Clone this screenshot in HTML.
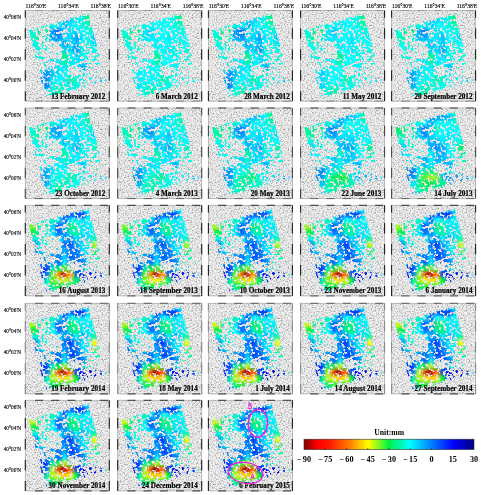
<!DOCTYPE html><html><head><meta charset="utf-8"><style>
html,body{margin:0;padding:0;background:#fff;}
svg{display:block;will-change:transform;}
text{font-family:"Liberation Serif",serif;}
</style></head><body>
<svg width="481" height="495" viewBox="0 0 481 495">
<defs>
<filter id="hs" x="0" y="0" width="1" height="1" color-interpolation-filters="sRGB"><feTurbulence type="fractalNoise" baseFrequency="0.75" numOctaves="2" seed="7" result="n"/><feColorMatrix in="n" type="matrix" values="1 0 0 0 0  1 0 0 0 0  1 0 0 0 0  0 0 0 0 1" result="g"/><feComponentTransfer in="g"><feFuncR type="table" tableValues="0.42 0.52 0.61 0.71 0.82 0.90 0.94 0.97 0.99 1 1"/><feFuncG type="table" tableValues="0.42 0.52 0.61 0.71 0.82 0.90 0.94 0.97 0.99 1 1"/><feFuncB type="table" tableValues="0.42 0.52 0.61 0.71 0.82 0.90 0.94 0.97 0.99 1 1"/></feComponentTransfer></filter>
<filter id="thr" filterUnits="userSpaceOnUse" x="-25" y="-25" width="134" height="141" color-interpolation-filters="sRGB"><feGaussianBlur in="SourceGraphic" stdDeviation="1.2" result="d"/><feTurbulence type="fractalNoise" baseFrequency="0.4" numOctaves="2" seed="23" result="n0"/><feColorMatrix in="n0" type="matrix" values="1 0 0 0 0  1 0 0 0 0  1 0 0 0 0  0 0 0 0 1" result="n"/><feComposite in="d" in2="n" operator="arithmetic" k1="0" k2="1" k3="1" k4="-0.5" result="s"/><feColorMatrix in="s" type="matrix" values="14 0 0 0 -7  14 0 0 0 -7  14 0 0 0 -7  0 0 0 0 1"/></filter>
<filter id="bl" x="-0.2" y="-0.2" width="1.4" height="1.4" color-interpolation-filters="sRGB"><feGaussianBlur stdDeviation="1.6"/></filter>
<filter id="bl2" x="-0.5" y="-0.5" width="2" height="2" color-interpolation-filters="sRGB"><feGaussianBlur stdDeviation="2.2"/></filter>
<clipPath id="fp"><polygon points="3.5,19.5 63,3.3 81.6,71.5 20,88.6"/></clipPath>
<clipPath id="pc"><rect x="0" y="0" width="84" height="90.6"/></clipPath>
<mask id="dm" maskUnits="userSpaceOnUse" x="0" y="0" width="84" height="91">
<g clip-path="url(#fp)"><g transform="rotate(-15 42 45)"><g filter="url(#thr)"><rect x="-25" y="-25" width="134" height="141" fill="#000"/><g transform="rotate(15 42 45)">
<path fill="#3d3d3d" d="M0 0h6.6v6.6h-6.6zM6 0h6.6v6.6h-6.6zM12 0h6.6v6.6h-6.6zM18 0h6.6v6.6h-6.6zM24 0h6.6v6.6h-6.6zM30 0h6.6v6.6h-6.6zM36 0h6.6v6.6h-6.6zM42 0h6.6v6.6h-6.6zM66 0h6.6v6.6h-6.6zM72 0h6.6v6.6h-6.6zM78 0h6.6v6.6h-6.6zM0 6h6.6v6.6h-6.6zM6 6h6.6v6.6h-6.6zM12 6h6.6v6.6h-6.6zM18 6h6.6v6.6h-6.6zM24 6h6.6v6.6h-6.6zM66 6h6.6v6.6h-6.6zM72 6h6.6v6.6h-6.6zM78 6h6.6v6.6h-6.6zM0 12h6.6v6.6h-6.6zM6 12h6.6v6.6h-6.6zM72 12h6.6v6.6h-6.6zM78 12h6.6v6.6h-6.6zM72 18h6.6v6.6h-6.6zM78 18h6.6v6.6h-6.6zM72 24h6.6v6.6h-6.6zM78 24h6.6v6.6h-6.6zM72 30h6.6v6.6h-6.6zM78 30h6.6v6.6h-6.6zM78 36h6.6v6.6h-6.6zM0 42h6.6v6.6h-6.6zM78 42h6.6v6.6h-6.6zM0 48h6.6v6.6h-6.6zM78 48h6.6v6.6h-6.6zM0 54h6.6v6.6h-6.6zM6 54h6.6v6.6h-6.6zM0 60h6.6v6.6h-6.6zM6 60h6.6v6.6h-6.6zM0 66h6.6v6.6h-6.6zM6 66h6.6v6.6h-6.6zM0 72h6.6v6.6h-6.6zM6 72h6.6v6.6h-6.6zM72 72h6.6v6.6h-6.6zM78 72h6.6v6.6h-6.6zM0 78h6.6v6.6h-6.6zM6 78h6.6v6.6h-6.6zM12 78h6.6v6.6h-6.6zM54 78h6.6v6.6h-6.6zM60 78h6.6v6.6h-6.6zM66 78h6.6v6.6h-6.6zM72 78h6.6v6.6h-6.6zM78 78h6.6v6.6h-6.6zM0 84h6.6v6.6h-6.6zM6 84h6.6v6.6h-6.6zM12 84h6.6v6.6h-6.6zM48 84h6.6v6.6h-6.6zM54 84h6.6v6.6h-6.6zM60 84h6.6v6.6h-6.6zM66 84h6.6v6.6h-6.6zM72 84h6.6v6.6h-6.6zM78 84h6.6v6.6h-6.6z"/>
<path fill="#5c5c5c" d="M30 6h6.6v6.6h-6.6zM66 12h6.6v6.6h-6.6zM12 24h6.6v6.6h-6.6zM24 30h6.6v6.6h-6.6zM24 36h6.6v6.6h-6.6zM30 36h6.6v6.6h-6.6zM72 36h6.6v6.6h-6.6zM12 42h6.6v6.6h-6.6zM18 42h6.6v6.6h-6.6zM24 42h6.6v6.6h-6.6zM30 42h6.6v6.6h-6.6zM6 48h6.6v6.6h-6.6zM12 48h6.6v6.6h-6.6zM18 48h6.6v6.6h-6.6zM24 48h6.6v6.6h-6.6zM42 54h6.6v6.6h-6.6zM48 54h6.6v6.6h-6.6zM60 54h6.6v6.6h-6.6zM66 54h6.6v6.6h-6.6zM72 54h6.6v6.6h-6.6zM78 54h6.6v6.6h-6.6zM48 60h6.6v6.6h-6.6zM54 60h6.6v6.6h-6.6zM60 60h6.6v6.6h-6.6zM66 60h6.6v6.6h-6.6zM72 60h6.6v6.6h-6.6zM78 60h6.6v6.6h-6.6zM12 72h6.6v6.6h-6.6zM60 72h6.6v6.6h-6.6zM66 72h6.6v6.6h-6.6zM48 78h6.6v6.6h-6.6zM24 84h6.6v6.6h-6.6zM30 84h6.6v6.6h-6.6zM36 84h6.6v6.6h-6.6zM42 84h6.6v6.6h-6.6z"/>
<path fill="#757575" d="M48 0h6.6v6.6h-6.6zM12 12h6.6v6.6h-6.6zM18 12h6.6v6.6h-6.6zM12 18h6.6v6.6h-6.6zM18 18h6.6v6.6h-6.6zM36 18h6.6v6.6h-6.6zM18 24h6.6v6.6h-6.6zM0 30h6.6v6.6h-6.6zM12 30h6.6v6.6h-6.6zM18 30h6.6v6.6h-6.6zM30 30h6.6v6.6h-6.6zM54 30h6.6v6.6h-6.6zM0 36h6.6v6.6h-6.6zM6 36h6.6v6.6h-6.6zM18 36h6.6v6.6h-6.6zM60 36h6.6v6.6h-6.6zM6 42h6.6v6.6h-6.6zM60 42h6.6v6.6h-6.6zM66 42h6.6v6.6h-6.6zM72 42h6.6v6.6h-6.6zM30 48h6.6v6.6h-6.6zM54 48h6.6v6.6h-6.6zM60 48h6.6v6.6h-6.6zM66 48h6.6v6.6h-6.6zM72 48h6.6v6.6h-6.6zM12 54h6.6v6.6h-6.6zM18 54h6.6v6.6h-6.6zM24 54h6.6v6.6h-6.6zM54 54h6.6v6.6h-6.6zM12 60h6.6v6.6h-6.6zM42 60h6.6v6.6h-6.6zM12 66h6.6v6.6h-6.6zM54 66h6.6v6.6h-6.6zM60 66h6.6v6.6h-6.6zM66 66h6.6v6.6h-6.6zM72 66h6.6v6.6h-6.6zM78 66h6.6v6.6h-6.6zM54 72h6.6v6.6h-6.6zM18 78h6.6v6.6h-6.6zM36 78h6.6v6.6h-6.6zM42 78h6.6v6.6h-6.6zM18 84h6.6v6.6h-6.6z"/>
<path fill="#999999" d="M54 0h6.6v6.6h-6.6zM60 0h6.6v6.6h-6.6zM36 6h6.6v6.6h-6.6zM42 6h6.6v6.6h-6.6zM48 6h6.6v6.6h-6.6zM54 6h6.6v6.6h-6.6zM60 6h6.6v6.6h-6.6zM24 12h6.6v6.6h-6.6zM30 12h6.6v6.6h-6.6zM36 12h6.6v6.6h-6.6zM42 12h6.6v6.6h-6.6zM48 12h6.6v6.6h-6.6zM54 12h6.6v6.6h-6.6zM60 12h6.6v6.6h-6.6zM0 18h6.6v6.6h-6.6zM6 18h6.6v6.6h-6.6zM24 18h6.6v6.6h-6.6zM30 18h6.6v6.6h-6.6zM42 18h6.6v6.6h-6.6zM48 18h6.6v6.6h-6.6zM54 18h6.6v6.6h-6.6zM60 18h6.6v6.6h-6.6zM66 18h6.6v6.6h-6.6zM0 24h6.6v6.6h-6.6zM6 24h6.6v6.6h-6.6zM24 24h6.6v6.6h-6.6zM30 24h6.6v6.6h-6.6zM36 24h6.6v6.6h-6.6zM42 24h6.6v6.6h-6.6zM48 24h6.6v6.6h-6.6zM54 24h6.6v6.6h-6.6zM60 24h6.6v6.6h-6.6zM66 24h6.6v6.6h-6.6zM6 30h6.6v6.6h-6.6zM36 30h6.6v6.6h-6.6zM42 30h6.6v6.6h-6.6zM48 30h6.6v6.6h-6.6zM60 30h6.6v6.6h-6.6zM66 30h6.6v6.6h-6.6zM12 36h6.6v6.6h-6.6zM36 36h6.6v6.6h-6.6zM42 36h6.6v6.6h-6.6zM48 36h6.6v6.6h-6.6zM54 36h6.6v6.6h-6.6zM66 36h6.6v6.6h-6.6zM36 42h6.6v6.6h-6.6zM42 42h6.6v6.6h-6.6zM48 42h6.6v6.6h-6.6zM54 42h6.6v6.6h-6.6zM36 48h6.6v6.6h-6.6zM42 48h6.6v6.6h-6.6zM48 48h6.6v6.6h-6.6zM30 54h6.6v6.6h-6.6zM36 54h6.6v6.6h-6.6zM18 60h6.6v6.6h-6.6zM24 60h6.6v6.6h-6.6zM30 60h6.6v6.6h-6.6zM36 60h6.6v6.6h-6.6zM18 66h6.6v6.6h-6.6zM24 66h6.6v6.6h-6.6zM30 66h6.6v6.6h-6.6zM36 66h6.6v6.6h-6.6zM42 66h6.6v6.6h-6.6zM48 66h6.6v6.6h-6.6zM18 72h6.6v6.6h-6.6zM24 72h6.6v6.6h-6.6zM30 72h6.6v6.6h-6.6zM36 72h6.6v6.6h-6.6zM42 72h6.6v6.6h-6.6zM48 72h6.6v6.6h-6.6zM24 78h6.6v6.6h-6.6zM30 78h6.6v6.6h-6.6z"/>
<path d="M9 46L35 51L61 55.5" stroke="#c8c8c8" stroke-width="1.8" fill="none"/>
<path d="M59 56L56 73" stroke="#b4b4b4" stroke-width="1.5" fill="none"/>
</g></g></g></g></mask>
<linearGradient id="jet" x1="0" y1="0" x2="1" y2="0"><stop offset="0" stop-color="#800000"/><stop offset="0.08" stop-color="#ff0000"/><stop offset="0.15" stop-color="#ff1900"/><stop offset="0.27" stop-color="#ff8000"/><stop offset="0.38" stop-color="#ffff00"/><stop offset="0.5" stop-color="#00f046"/><stop offset="0.62" stop-color="#00ffff"/><stop offset="0.75" stop-color="#0080ff"/><stop offset="0.88" stop-color="#0000ff"/><stop offset="1" stop-color="#000080"/></linearGradient>
</defs>
<rect width="481" height="495" fill="#fff"/>
<text x="35.9" y="7.75" font-size="5.2" text-anchor="middle" textLength="20.6" stroke="#000" stroke-width="0.12" lengthAdjust="spacingAndGlyphs">116°30'E</text>
<text x="68.3" y="7.75" font-size="5.2" text-anchor="middle" textLength="20.6" stroke="#000" stroke-width="0.12" lengthAdjust="spacingAndGlyphs">116°34'E</text>
<text x="100.7" y="7.75" font-size="5.2" text-anchor="middle" textLength="20.6" stroke="#000" stroke-width="0.12" lengthAdjust="spacingAndGlyphs">116°38'E</text>
<text x="128.3" y="7.75" font-size="5.2" text-anchor="middle" textLength="20.6" stroke="#000" stroke-width="0.12" lengthAdjust="spacingAndGlyphs">116°30'E</text>
<text x="160.7" y="7.75" font-size="5.2" text-anchor="middle" textLength="20.6" stroke="#000" stroke-width="0.12" lengthAdjust="spacingAndGlyphs">116°34'E</text>
<text x="193.1" y="7.75" font-size="5.2" text-anchor="middle" textLength="20.6" stroke="#000" stroke-width="0.12" lengthAdjust="spacingAndGlyphs">116°38'E</text>
<text x="219" y="7.75" font-size="5.2" text-anchor="middle" textLength="20.6" stroke="#000" stroke-width="0.12" lengthAdjust="spacingAndGlyphs">116°30'E</text>
<text x="251.4" y="7.75" font-size="5.2" text-anchor="middle" textLength="20.6" stroke="#000" stroke-width="0.12" lengthAdjust="spacingAndGlyphs">116°34'E</text>
<text x="283.8" y="7.75" font-size="5.2" text-anchor="middle" textLength="20.6" stroke="#000" stroke-width="0.12" lengthAdjust="spacingAndGlyphs">116°38'E</text>
<text x="311.2" y="7.75" font-size="5.2" text-anchor="middle" textLength="20.6" stroke="#000" stroke-width="0.12" lengthAdjust="spacingAndGlyphs">116°30'E</text>
<text x="343.6" y="7.75" font-size="5.2" text-anchor="middle" textLength="20.6" stroke="#000" stroke-width="0.12" lengthAdjust="spacingAndGlyphs">116°34'E</text>
<text x="376" y="7.75" font-size="5.2" text-anchor="middle" textLength="20.6" stroke="#000" stroke-width="0.12" lengthAdjust="spacingAndGlyphs">116°38'E</text>
<text x="402.2" y="7.75" font-size="5.2" text-anchor="middle" textLength="20.6" stroke="#000" stroke-width="0.12" lengthAdjust="spacingAndGlyphs">116°30'E</text>
<text x="434.6" y="7.75" font-size="5.2" text-anchor="middle" textLength="20.6" stroke="#000" stroke-width="0.12" lengthAdjust="spacingAndGlyphs">116°34'E</text>
<text x="467" y="7.75" font-size="5.2" text-anchor="middle" textLength="20.6" stroke="#000" stroke-width="0.12" lengthAdjust="spacingAndGlyphs">116°38'E</text>
<text x="3.7" y="19.3" font-size="5.2" textLength="17.5" stroke="#000" stroke-width="0.12" lengthAdjust="spacingAndGlyphs">40°06'N</text>
<text x="3.7" y="40.3" font-size="5.2" textLength="17.5" stroke="#000" stroke-width="0.12" lengthAdjust="spacingAndGlyphs">40°04'N</text>
<text x="3.7" y="61.3" font-size="5.2" textLength="17.5" stroke="#000" stroke-width="0.12" lengthAdjust="spacingAndGlyphs">40°02'N</text>
<text x="3.7" y="82.3" font-size="5.2" textLength="17.5" stroke="#000" stroke-width="0.12" lengthAdjust="spacingAndGlyphs">40°00'N</text>
<text x="3.7" y="116.8" font-size="5.2" textLength="17.5" stroke="#000" stroke-width="0.12" lengthAdjust="spacingAndGlyphs">40°06'N</text>
<text x="3.7" y="137.8" font-size="5.2" textLength="17.5" stroke="#000" stroke-width="0.12" lengthAdjust="spacingAndGlyphs">40°04'N</text>
<text x="3.7" y="158.8" font-size="5.2" textLength="17.5" stroke="#000" stroke-width="0.12" lengthAdjust="spacingAndGlyphs">40°02'N</text>
<text x="3.7" y="179.8" font-size="5.2" textLength="17.5" stroke="#000" stroke-width="0.12" lengthAdjust="spacingAndGlyphs">40°00'N</text>
<text x="3.7" y="214.1" font-size="5.2" textLength="17.5" stroke="#000" stroke-width="0.12" lengthAdjust="spacingAndGlyphs">40°06'N</text>
<text x="3.7" y="235.1" font-size="5.2" textLength="17.5" stroke="#000" stroke-width="0.12" lengthAdjust="spacingAndGlyphs">40°04'N</text>
<text x="3.7" y="256.1" font-size="5.2" textLength="17.5" stroke="#000" stroke-width="0.12" lengthAdjust="spacingAndGlyphs">40°02'N</text>
<text x="3.7" y="277.1" font-size="5.2" textLength="17.5" stroke="#000" stroke-width="0.12" lengthAdjust="spacingAndGlyphs">40°00'N</text>
<text x="3.7" y="312.1" font-size="5.2" textLength="17.5" stroke="#000" stroke-width="0.12" lengthAdjust="spacingAndGlyphs">40°06'N</text>
<text x="3.7" y="333.1" font-size="5.2" textLength="17.5" stroke="#000" stroke-width="0.12" lengthAdjust="spacingAndGlyphs">40°04'N</text>
<text x="3.7" y="354.1" font-size="5.2" textLength="17.5" stroke="#000" stroke-width="0.12" lengthAdjust="spacingAndGlyphs">40°02'N</text>
<text x="3.7" y="375.1" font-size="5.2" textLength="17.5" stroke="#000" stroke-width="0.12" lengthAdjust="spacingAndGlyphs">40°00'N</text>
<text x="3.7" y="409.1" font-size="5.2" textLength="17.5" stroke="#000" stroke-width="0.12" lengthAdjust="spacingAndGlyphs">40°06'N</text>
<text x="3.7" y="430.1" font-size="5.2" textLength="17.5" stroke="#000" stroke-width="0.12" lengthAdjust="spacingAndGlyphs">40°04'N</text>
<text x="3.7" y="451.1" font-size="5.2" textLength="17.5" stroke="#000" stroke-width="0.12" lengthAdjust="spacingAndGlyphs">40°02'N</text>
<text x="3.7" y="472.1" font-size="5.2" textLength="17.5" stroke="#000" stroke-width="0.12" lengthAdjust="spacingAndGlyphs">40°00'N</text>
<g transform="translate(25.3,10.5)">
<rect x="0" y="0" width="84" height="90.6" filter="url(#hs)"/>
<g mask="url(#dm)"><g filter="url(#bl)">
<rect width="84" height="90" fill="#00fce0"/>
<path fill="#00f584" d="M60 0h6.6v6.6h-6.6zM60 6h6.6v6.6h-6.6zM12 18h6.6v6.6h-6.6zM18 18h6.6v6.6h-6.6zM12 24h6.6v6.6h-6.6zM24 36h6.6v6.6h-6.6zM36 42h6.6v6.6h-6.6z"/>
<path fill="#00eaff" d="M30 6h6.6v6.6h-6.6zM48 6h6.6v6.6h-6.6zM42 12h6.6v6.6h-6.6zM42 18h6.6v6.6h-6.6zM66 18h6.6v6.6h-6.6zM36 24h6.6v6.6h-6.6zM54 24h6.6v6.6h-6.6zM24 30h6.6v6.6h-6.6zM30 30h6.6v6.6h-6.6zM42 30h6.6v6.6h-6.6zM66 30h6.6v6.6h-6.6zM0 36h6.6v6.6h-6.6zM6 36h6.6v6.6h-6.6zM18 48h6.6v6.6h-6.6zM24 48h6.6v6.6h-6.6zM30 48h6.6v6.6h-6.6zM42 48h6.6v6.6h-6.6zM48 48h6.6v6.6h-6.6zM18 54h6.6v6.6h-6.6zM30 54h6.6v6.6h-6.6zM36 54h6.6v6.6h-6.6zM60 54h6.6v6.6h-6.6zM30 60h6.6v6.6h-6.6zM24 66h6.6v6.6h-6.6zM36 66h6.6v6.6h-6.6zM54 66h6.6v6.6h-6.6zM66 66h6.6v6.6h-6.6zM42 72h6.6v6.6h-6.6zM18 84h6.6v6.6h-6.6z"/>
<path fill="#00c0ff" d="M36 6h6.6v6.6h-6.6zM36 12h6.6v6.6h-6.6zM66 24h6.6v6.6h-6.6zM48 30h6.6v6.6h-6.6zM12 60h6.6v6.6h-6.6zM24 60h6.6v6.6h-6.6zM72 66h6.6v6.6h-6.6zM78 66h6.6v6.6h-6.6z"/>
<path fill="#00d5ff" d="M42 6h6.6v6.6h-6.6zM36 18h6.6v6.6h-6.6zM48 18h6.6v6.6h-6.6zM42 24h6.6v6.6h-6.6zM36 36h6.6v6.6h-6.6zM42 36h6.6v6.6h-6.6zM48 42h6.6v6.6h-6.6zM54 48h6.6v6.6h-6.6zM24 54h6.6v6.6h-6.6z"/>
<path fill="#00ffff" d="M30 12h6.6v6.6h-6.6zM48 12h6.6v6.6h-6.6zM54 18h6.6v6.6h-6.6zM60 24h6.6v6.6h-6.6zM54 30h6.6v6.6h-6.6zM60 36h6.6v6.6h-6.6zM24 42h6.6v6.6h-6.6zM42 42h6.6v6.6h-6.6zM60 42h6.6v6.6h-6.6zM72 48h6.6v6.6h-6.6zM48 54h6.6v6.6h-6.6zM36 60h6.6v6.6h-6.6zM60 60h6.6v6.6h-6.6zM30 66h6.6v6.6h-6.6z"/>
<path fill="#00fac1" d="M60 12h6.6v6.6h-6.6zM6 24h6.6v6.6h-6.6z"/>
<path fill="#0095ff" d="M24 18h6.6v6.6h-6.6zM30 24h6.6v6.6h-6.6zM48 36h6.6v6.6h-6.6zM18 60h6.6v6.6h-6.6zM12 66h6.6v6.6h-6.6zM18 66h6.6v6.6h-6.6z"/>
<path fill="#006bff" d="M30 18h6.6v6.6h-6.6z"/>
<path fill="#00aaff" d="M24 24h6.6v6.6h-6.6zM48 24h6.6v6.6h-6.6zM36 30h6.6v6.6h-6.6zM54 54h6.6v6.6h-6.6z"/>
<path fill="#00f8a2" d="M30 36h6.6v6.6h-6.6zM36 48h6.6v6.6h-6.6zM42 66h6.6v6.6h-6.6zM30 78h6.6v6.6h-6.6z"/>
<path fill="#0080ff" d="M18 72h6.6v6.6h-6.6z"/>
</g></g>
<rect x="0" y="0" width="84" height="90.6" fill="none" stroke="#b0b0b0" stroke-width="0.8"/>
<path d="M9.7 0H17.8 M25.9 0H34 M42.1 0H50.2 M58.3 0H66.4 M74.5 0H82.6" stroke="#9a9a9a" stroke-width="1.0" fill="none"/>
<path d="M9.7 90.6H17.8 M25.9 90.6H34 M42.1 90.6H50.2 M58.3 90.6H66.4 M74.5 90.6H82.6" stroke="#8a8a8a" stroke-width="1.0" fill="none"/>
<path d="M0 0V7.2 M84 0V7.2 M0 17.7V28.2 M84 17.7V28.2 M0 38.7V49.2 M84 38.7V49.2 M0 59.7V70.2 M84 59.7V70.2 M0 80.7V90.6 M84 80.7V90.6" stroke="#202020" stroke-width="1.1" fill="none"/>
<text x="80" y="88" font-size="7.7" font-weight="bold" text-anchor="end" stroke="#000" stroke-width="0.2" textLength="54.13" lengthAdjust="spacingAndGlyphs">13 February 2012</text>
</g>
<g transform="translate(117.7,10.5)">
<rect x="0" y="0" width="84" height="90.6" filter="url(#hs)"/>
<g mask="url(#dm)"><g filter="url(#bl)">
<rect width="84" height="90" fill="#00fce0"/>
<path fill="#00f584" d="M60 0h6.6v6.6h-6.6zM60 6h6.6v6.6h-6.6zM12 18h6.6v6.6h-6.6zM18 18h6.6v6.6h-6.6zM12 24h6.6v6.6h-6.6zM24 36h6.6v6.6h-6.6zM36 42h6.6v6.6h-6.6z"/>
<path fill="#00ffff" d="M30 6h6.6v6.6h-6.6zM36 6h6.6v6.6h-6.6zM42 6h6.6v6.6h-6.6zM48 6h6.6v6.6h-6.6zM30 12h6.6v6.6h-6.6zM36 12h6.6v6.6h-6.6zM42 12h6.6v6.6h-6.6zM48 12h6.6v6.6h-6.6zM36 18h6.6v6.6h-6.6zM42 18h6.6v6.6h-6.6zM48 18h6.6v6.6h-6.6zM54 18h6.6v6.6h-6.6zM66 18h6.6v6.6h-6.6zM36 24h6.6v6.6h-6.6zM42 24h6.6v6.6h-6.6zM54 24h6.6v6.6h-6.6zM60 24h6.6v6.6h-6.6zM66 24h6.6v6.6h-6.6zM24 30h6.6v6.6h-6.6zM30 30h6.6v6.6h-6.6zM42 30h6.6v6.6h-6.6zM48 30h6.6v6.6h-6.6zM54 30h6.6v6.6h-6.6zM66 30h6.6v6.6h-6.6zM0 36h6.6v6.6h-6.6zM6 36h6.6v6.6h-6.6zM36 36h6.6v6.6h-6.6zM42 36h6.6v6.6h-6.6zM60 36h6.6v6.6h-6.6zM24 42h6.6v6.6h-6.6zM42 42h6.6v6.6h-6.6zM48 42h6.6v6.6h-6.6zM60 42h6.6v6.6h-6.6zM18 48h6.6v6.6h-6.6zM24 48h6.6v6.6h-6.6zM30 48h6.6v6.6h-6.6zM42 48h6.6v6.6h-6.6zM48 48h6.6v6.6h-6.6zM54 48h6.6v6.6h-6.6zM72 48h6.6v6.6h-6.6zM18 54h6.6v6.6h-6.6zM24 54h6.6v6.6h-6.6zM30 54h6.6v6.6h-6.6zM36 54h6.6v6.6h-6.6zM48 54h6.6v6.6h-6.6zM60 54h6.6v6.6h-6.6zM12 60h6.6v6.6h-6.6zM24 60h6.6v6.6h-6.6zM30 60h6.6v6.6h-6.6zM36 60h6.6v6.6h-6.6zM60 60h6.6v6.6h-6.6zM24 66h6.6v6.6h-6.6zM30 66h6.6v6.6h-6.6zM36 66h6.6v6.6h-6.6zM54 66h6.6v6.6h-6.6zM66 66h6.6v6.6h-6.6zM72 66h6.6v6.6h-6.6zM78 66h6.6v6.6h-6.6zM42 72h6.6v6.6h-6.6zM18 84h6.6v6.6h-6.6z"/>
<path fill="#00fac1" d="M60 12h6.6v6.6h-6.6zM6 24h6.6v6.6h-6.6z"/>
<path fill="#00eaff" d="M24 18h6.6v6.6h-6.6zM24 24h6.6v6.6h-6.6zM30 24h6.6v6.6h-6.6zM48 24h6.6v6.6h-6.6zM36 30h6.6v6.6h-6.6zM48 36h6.6v6.6h-6.6zM54 54h6.6v6.6h-6.6zM18 60h6.6v6.6h-6.6zM12 66h6.6v6.6h-6.6zM18 66h6.6v6.6h-6.6zM18 72h6.6v6.6h-6.6z"/>
<path fill="#00d5ff" d="M30 18h6.6v6.6h-6.6z"/>
<path fill="#00f8a2" d="M30 36h6.6v6.6h-6.6zM36 48h6.6v6.6h-6.6zM42 66h6.6v6.6h-6.6zM30 78h6.6v6.6h-6.6z"/>
</g></g>
<rect x="0" y="0" width="84" height="90.6" fill="none" stroke="#b0b0b0" stroke-width="0.8"/>
<path d="M9.7 0H17.8 M25.9 0H34 M42.1 0H50.2 M58.3 0H66.4 M74.5 0H82.6" stroke="#9a9a9a" stroke-width="1.0" fill="none"/>
<path d="M9.7 90.6H17.8 M25.9 90.6H34 M42.1 90.6H50.2 M58.3 90.6H66.4 M74.5 90.6H82.6" stroke="#8a8a8a" stroke-width="1.0" fill="none"/>
<path d="M0 0V7.2 M84 0V7.2 M0 17.7V28.2 M84 17.7V28.2 M0 38.7V49.2 M84 38.7V49.2 M0 59.7V70.2 M84 59.7V70.2 M0 80.7V90.6 M84 80.7V90.6" stroke="#202020" stroke-width="1.1" fill="none"/>
<text x="80.1" y="88" font-size="7.7" font-weight="bold" text-anchor="end" stroke="#000" stroke-width="0.2" textLength="42.06" lengthAdjust="spacingAndGlyphs">6 March 2012</text>
</g>
<g transform="translate(208.4,10.5)">
<rect x="0" y="0" width="84" height="90.6" filter="url(#hs)"/>
<g mask="url(#dm)"><g filter="url(#bl)">
<rect width="84" height="90" fill="#00fce0"/>
<path fill="#00f584" d="M60 0h6.6v6.6h-6.6zM60 6h6.6v6.6h-6.6zM12 18h6.6v6.6h-6.6zM18 18h6.6v6.6h-6.6zM12 24h6.6v6.6h-6.6zM24 36h6.6v6.6h-6.6zM36 42h6.6v6.6h-6.6z"/>
<path fill="#00eaff" d="M30 6h6.6v6.6h-6.6zM48 6h6.6v6.6h-6.6zM42 12h6.6v6.6h-6.6zM42 18h6.6v6.6h-6.6zM66 18h6.6v6.6h-6.6zM36 24h6.6v6.6h-6.6zM54 24h6.6v6.6h-6.6zM24 30h6.6v6.6h-6.6zM30 30h6.6v6.6h-6.6zM42 30h6.6v6.6h-6.6zM66 30h6.6v6.6h-6.6zM0 36h6.6v6.6h-6.6zM6 36h6.6v6.6h-6.6zM18 48h6.6v6.6h-6.6zM24 48h6.6v6.6h-6.6zM30 48h6.6v6.6h-6.6zM42 48h6.6v6.6h-6.6zM48 48h6.6v6.6h-6.6zM18 54h6.6v6.6h-6.6zM30 54h6.6v6.6h-6.6zM36 54h6.6v6.6h-6.6zM60 54h6.6v6.6h-6.6zM30 60h6.6v6.6h-6.6zM24 66h6.6v6.6h-6.6zM36 66h6.6v6.6h-6.6zM54 66h6.6v6.6h-6.6zM66 66h6.6v6.6h-6.6zM42 72h6.6v6.6h-6.6zM18 84h6.6v6.6h-6.6z"/>
<path fill="#00c0ff" d="M36 6h6.6v6.6h-6.6zM36 12h6.6v6.6h-6.6zM66 24h6.6v6.6h-6.6zM48 30h6.6v6.6h-6.6zM12 60h6.6v6.6h-6.6zM24 60h6.6v6.6h-6.6zM72 66h6.6v6.6h-6.6zM78 66h6.6v6.6h-6.6z"/>
<path fill="#00d5ff" d="M42 6h6.6v6.6h-6.6zM36 18h6.6v6.6h-6.6zM48 18h6.6v6.6h-6.6zM42 24h6.6v6.6h-6.6zM36 36h6.6v6.6h-6.6zM42 36h6.6v6.6h-6.6zM48 42h6.6v6.6h-6.6zM54 48h6.6v6.6h-6.6zM24 54h6.6v6.6h-6.6z"/>
<path fill="#00ffff" d="M30 12h6.6v6.6h-6.6zM48 12h6.6v6.6h-6.6zM54 18h6.6v6.6h-6.6zM60 24h6.6v6.6h-6.6zM54 30h6.6v6.6h-6.6zM60 36h6.6v6.6h-6.6zM24 42h6.6v6.6h-6.6zM42 42h6.6v6.6h-6.6zM60 42h6.6v6.6h-6.6zM72 48h6.6v6.6h-6.6zM48 54h6.6v6.6h-6.6zM36 60h6.6v6.6h-6.6zM60 60h6.6v6.6h-6.6zM30 66h6.6v6.6h-6.6z"/>
<path fill="#00fac1" d="M60 12h6.6v6.6h-6.6zM6 24h6.6v6.6h-6.6z"/>
<path fill="#0095ff" d="M24 18h6.6v6.6h-6.6zM30 24h6.6v6.6h-6.6zM48 36h6.6v6.6h-6.6zM18 60h6.6v6.6h-6.6zM12 66h6.6v6.6h-6.6zM18 66h6.6v6.6h-6.6z"/>
<path fill="#006bff" d="M30 18h6.6v6.6h-6.6z"/>
<path fill="#00aaff" d="M24 24h6.6v6.6h-6.6zM48 24h6.6v6.6h-6.6zM36 30h6.6v6.6h-6.6zM54 54h6.6v6.6h-6.6z"/>
<path fill="#00f8a2" d="M30 36h6.6v6.6h-6.6zM36 48h6.6v6.6h-6.6zM42 66h6.6v6.6h-6.6zM30 78h6.6v6.6h-6.6z"/>
<path fill="#0080ff" d="M18 72h6.6v6.6h-6.6z"/>
</g></g>
<rect x="0" y="0" width="84" height="90.6" fill="none" stroke="#b0b0b0" stroke-width="0.8"/>
<path d="M9.7 0H17.8 M25.9 0H34 M42.1 0H50.2 M58.3 0H66.4 M74.5 0H82.6" stroke="#9a9a9a" stroke-width="1.0" fill="none"/>
<path d="M9.7 90.6H17.8 M25.9 90.6H34 M42.1 90.6H50.2 M58.3 90.6H66.4 M74.5 90.6H82.6" stroke="#8a8a8a" stroke-width="1.0" fill="none"/>
<path d="M0 0V7.2 M84 0V7.2 M0 17.7V28.2 M84 17.7V28.2 M0 38.7V49.2 M84 38.7V49.2 M0 59.7V70.2 M84 59.7V70.2 M0 80.7V90.6 M84 80.7V90.6" stroke="#202020" stroke-width="1.1" fill="none"/>
<text x="81.4" y="88" font-size="7.7" font-weight="bold" text-anchor="end" stroke="#000" stroke-width="0.2" textLength="45.64" lengthAdjust="spacingAndGlyphs">28 March 2012</text>
</g>
<g transform="translate(300.6,10.5)">
<rect x="0" y="0" width="84" height="90.6" filter="url(#hs)"/>
<g mask="url(#dm)"><g filter="url(#bl)">
<rect width="84" height="90" fill="#00fce0"/>
<path fill="#00f584" d="M60 0h6.6v6.6h-6.6zM60 6h6.6v6.6h-6.6zM12 18h6.6v6.6h-6.6zM18 18h6.6v6.6h-6.6zM12 24h6.6v6.6h-6.6zM24 36h6.6v6.6h-6.6zM36 42h6.6v6.6h-6.6z"/>
<path fill="#00ffff" d="M30 6h6.6v6.6h-6.6zM42 6h6.6v6.6h-6.6zM48 6h6.6v6.6h-6.6zM30 12h6.6v6.6h-6.6zM42 12h6.6v6.6h-6.6zM48 12h6.6v6.6h-6.6zM36 18h6.6v6.6h-6.6zM42 18h6.6v6.6h-6.6zM48 18h6.6v6.6h-6.6zM54 18h6.6v6.6h-6.6zM66 18h6.6v6.6h-6.6zM36 24h6.6v6.6h-6.6zM42 24h6.6v6.6h-6.6zM54 24h6.6v6.6h-6.6zM60 24h6.6v6.6h-6.6zM24 30h6.6v6.6h-6.6zM30 30h6.6v6.6h-6.6zM42 30h6.6v6.6h-6.6zM54 30h6.6v6.6h-6.6zM66 30h6.6v6.6h-6.6zM0 36h6.6v6.6h-6.6zM6 36h6.6v6.6h-6.6zM36 36h6.6v6.6h-6.6zM42 36h6.6v6.6h-6.6zM60 36h6.6v6.6h-6.6zM24 42h6.6v6.6h-6.6zM42 42h6.6v6.6h-6.6zM48 42h6.6v6.6h-6.6zM60 42h6.6v6.6h-6.6zM18 48h6.6v6.6h-6.6zM24 48h6.6v6.6h-6.6zM30 48h6.6v6.6h-6.6zM42 48h6.6v6.6h-6.6zM48 48h6.6v6.6h-6.6zM54 48h6.6v6.6h-6.6zM72 48h6.6v6.6h-6.6zM18 54h6.6v6.6h-6.6zM24 54h6.6v6.6h-6.6zM30 54h6.6v6.6h-6.6zM36 54h6.6v6.6h-6.6zM48 54h6.6v6.6h-6.6zM60 54h6.6v6.6h-6.6zM30 60h6.6v6.6h-6.6zM36 60h6.6v6.6h-6.6zM60 60h6.6v6.6h-6.6zM24 66h6.6v6.6h-6.6zM30 66h6.6v6.6h-6.6zM36 66h6.6v6.6h-6.6zM54 66h6.6v6.6h-6.6zM66 66h6.6v6.6h-6.6zM42 72h6.6v6.6h-6.6zM18 84h6.6v6.6h-6.6z"/>
<path fill="#00eaff" d="M36 6h6.6v6.6h-6.6zM36 12h6.6v6.6h-6.6zM24 18h6.6v6.6h-6.6zM24 24h6.6v6.6h-6.6zM30 24h6.6v6.6h-6.6zM48 24h6.6v6.6h-6.6zM66 24h6.6v6.6h-6.6zM36 30h6.6v6.6h-6.6zM48 30h6.6v6.6h-6.6zM48 36h6.6v6.6h-6.6zM54 54h6.6v6.6h-6.6zM12 60h6.6v6.6h-6.6zM24 60h6.6v6.6h-6.6zM12 66h6.6v6.6h-6.6zM72 66h6.6v6.6h-6.6zM78 66h6.6v6.6h-6.6z"/>
<path fill="#00fac1" d="M60 12h6.6v6.6h-6.6zM6 24h6.6v6.6h-6.6z"/>
<path fill="#00c0ff" d="M30 18h6.6v6.6h-6.6z"/>
<path fill="#00f8a2" d="M30 36h6.6v6.6h-6.6zM36 48h6.6v6.6h-6.6zM42 66h6.6v6.6h-6.6zM30 78h6.6v6.6h-6.6z"/>
<path fill="#00d5ff" d="M18 60h6.6v6.6h-6.6zM18 66h6.6v6.6h-6.6zM18 72h6.6v6.6h-6.6z"/>
</g></g>
<rect x="0" y="0" width="84" height="90.6" fill="none" stroke="#b0b0b0" stroke-width="0.8"/>
<path d="M9.7 0H17.8 M25.9 0H34 M42.1 0H50.2 M58.3 0H66.4 M74.5 0H82.6" stroke="#9a9a9a" stroke-width="1.0" fill="none"/>
<path d="M9.7 90.6H17.8 M25.9 90.6H34 M42.1 90.6H50.2 M58.3 90.6H66.4 M74.5 90.6H82.6" stroke="#8a8a8a" stroke-width="1.0" fill="none"/>
<path d="M0 0V7.2 M84 0V7.2 M0 17.7V28.2 M84 17.7V28.2 M0 38.7V49.2 M84 38.7V49.2 M0 59.7V70.2 M84 59.7V70.2 M0 80.7V90.6 M84 80.7V90.6" stroke="#202020" stroke-width="1.1" fill="none"/>
<text x="80.8" y="88" font-size="7.7" font-weight="bold" text-anchor="end" stroke="#000" stroke-width="0.2" textLength="38.62" lengthAdjust="spacingAndGlyphs">11 May 2012</text>
</g>
<g transform="translate(391.6,10.5)">
<rect x="0" y="0" width="84" height="90.6" filter="url(#hs)"/>
<g mask="url(#dm)"><g filter="url(#bl)">
<rect width="84" height="90" fill="#00fce0"/>
<path fill="#00f584" d="M60 0h6.6v6.6h-6.6zM60 6h6.6v6.6h-6.6zM12 18h6.6v6.6h-6.6zM18 18h6.6v6.6h-6.6zM12 24h6.6v6.6h-6.6zM24 36h6.6v6.6h-6.6zM36 42h6.6v6.6h-6.6z"/>
<path fill="#00ffff" d="M30 6h6.6v6.6h-6.6zM30 12h6.6v6.6h-6.6zM42 12h6.6v6.6h-6.6zM48 12h6.6v6.6h-6.6zM54 18h6.6v6.6h-6.6zM66 18h6.6v6.6h-6.6zM36 24h6.6v6.6h-6.6zM54 24h6.6v6.6h-6.6zM60 24h6.6v6.6h-6.6zM24 30h6.6v6.6h-6.6zM30 30h6.6v6.6h-6.6zM54 30h6.6v6.6h-6.6zM66 30h6.6v6.6h-6.6zM0 36h6.6v6.6h-6.6zM6 36h6.6v6.6h-6.6zM60 36h6.6v6.6h-6.6zM24 42h6.6v6.6h-6.6zM42 42h6.6v6.6h-6.6zM60 42h6.6v6.6h-6.6zM18 48h6.6v6.6h-6.6zM24 48h6.6v6.6h-6.6zM48 48h6.6v6.6h-6.6zM72 48h6.6v6.6h-6.6zM18 54h6.6v6.6h-6.6zM30 54h6.6v6.6h-6.6zM48 54h6.6v6.6h-6.6zM60 54h6.6v6.6h-6.6zM30 60h6.6v6.6h-6.6zM36 60h6.6v6.6h-6.6zM60 60h6.6v6.6h-6.6zM24 66h6.6v6.6h-6.6zM36 66h6.6v6.6h-6.6zM60 66h6.6v6.6h-6.6zM12 72h6.6v6.6h-6.6zM42 72h6.6v6.6h-6.6zM54 72h6.6v6.6h-6.6zM60 72h6.6v6.6h-6.6zM66 72h6.6v6.6h-6.6z"/>
<path fill="#00d5ff" d="M36 6h6.6v6.6h-6.6zM42 6h6.6v6.6h-6.6zM36 12h6.6v6.6h-6.6zM66 24h6.6v6.6h-6.6zM48 30h6.6v6.6h-6.6zM36 36h6.6v6.6h-6.6zM42 36h6.6v6.6h-6.6zM48 42h6.6v6.6h-6.6zM24 60h6.6v6.6h-6.6zM72 66h6.6v6.6h-6.6zM78 66h6.6v6.6h-6.6z"/>
<path fill="#00eaff" d="M48 6h6.6v6.6h-6.6zM36 18h6.6v6.6h-6.6zM42 18h6.6v6.6h-6.6zM48 18h6.6v6.6h-6.6zM42 24h6.6v6.6h-6.6zM42 30h6.6v6.6h-6.6zM30 48h6.6v6.6h-6.6zM42 48h6.6v6.6h-6.6zM54 48h6.6v6.6h-6.6zM24 54h6.6v6.6h-6.6zM36 54h6.6v6.6h-6.6zM54 66h6.6v6.6h-6.6zM66 66h6.6v6.6h-6.6zM18 84h6.6v6.6h-6.6z"/>
<path fill="#00fac1" d="M60 12h6.6v6.6h-6.6zM6 24h6.6v6.6h-6.6zM36 72h6.6v6.6h-6.6z"/>
<path fill="#00aaff" d="M24 18h6.6v6.6h-6.6zM30 24h6.6v6.6h-6.6zM48 36h6.6v6.6h-6.6zM18 60h6.6v6.6h-6.6zM12 66h6.6v6.6h-6.6zM18 66h6.6v6.6h-6.6zM18 72h6.6v6.6h-6.6z"/>
<path fill="#0080ff" d="M30 18h6.6v6.6h-6.6z"/>
<path fill="#00c0ff" d="M24 24h6.6v6.6h-6.6zM48 24h6.6v6.6h-6.6zM36 30h6.6v6.6h-6.6zM54 54h6.6v6.6h-6.6zM12 60h6.6v6.6h-6.6z"/>
<path fill="#00f8a2" d="M30 36h6.6v6.6h-6.6zM36 48h6.6v6.6h-6.6zM42 66h6.6v6.6h-6.6zM30 78h6.6v6.6h-6.6z"/>
</g></g>
<rect x="0" y="0" width="84" height="90.6" fill="none" stroke="#b0b0b0" stroke-width="0.8"/>
<path d="M9.7 0H17.8 M25.9 0H34 M42.1 0H50.2 M58.3 0H66.4 M74.5 0H82.6" stroke="#9a9a9a" stroke-width="1.0" fill="none"/>
<path d="M9.7 90.6H17.8 M25.9 90.6H34 M42.1 90.6H50.2 M58.3 90.6H66.4 M74.5 90.6H82.6" stroke="#8a8a8a" stroke-width="1.0" fill="none"/>
<path d="M0 0V7.2 M84 0V7.2 M0 17.7V28.2 M84 17.7V28.2 M0 38.7V49.2 M84 38.7V49.2 M0 59.7V70.2 M84 59.7V70.2 M0 80.7V90.6 M84 80.7V90.6" stroke="#202020" stroke-width="1.1" fill="none"/>
<text x="80.9" y="88" font-size="7.7" font-weight="bold" text-anchor="end" stroke="#000" stroke-width="0.2" textLength="57.98" lengthAdjust="spacingAndGlyphs">20 September 2012</text>
</g>
<g transform="translate(25.3,108)">
<rect x="0" y="0" width="84" height="90.6" filter="url(#hs)"/>
<g mask="url(#dm)"><g filter="url(#bl)">
<rect width="84" height="90" fill="#00fce0"/>
<path fill="#00f584" d="M60 0h6.6v6.6h-6.6zM60 6h6.6v6.6h-6.6zM12 18h6.6v6.6h-6.6zM18 18h6.6v6.6h-6.6zM12 24h6.6v6.6h-6.6zM24 36h6.6v6.6h-6.6z"/>
<path fill="#00ffff" d="M30 6h6.6v6.6h-6.6zM54 6h6.6v6.6h-6.6zM30 12h6.6v6.6h-6.6zM42 12h6.6v6.6h-6.6zM48 12h6.6v6.6h-6.6zM42 18h6.6v6.6h-6.6zM54 18h6.6v6.6h-6.6zM66 18h6.6v6.6h-6.6zM36 24h6.6v6.6h-6.6zM54 24h6.6v6.6h-6.6zM60 24h6.6v6.6h-6.6zM24 30h6.6v6.6h-6.6zM30 30h6.6v6.6h-6.6zM54 30h6.6v6.6h-6.6zM66 30h6.6v6.6h-6.6zM0 36h6.6v6.6h-6.6zM6 36h6.6v6.6h-6.6zM60 36h6.6v6.6h-6.6zM24 42h6.6v6.6h-6.6zM42 42h6.6v6.6h-6.6zM60 42h6.6v6.6h-6.6zM18 48h6.6v6.6h-6.6zM24 48h6.6v6.6h-6.6zM48 48h6.6v6.6h-6.6zM72 48h6.6v6.6h-6.6zM18 54h6.6v6.6h-6.6zM30 54h6.6v6.6h-6.6zM48 54h6.6v6.6h-6.6zM60 54h6.6v6.6h-6.6zM30 60h6.6v6.6h-6.6zM36 60h6.6v6.6h-6.6zM48 60h6.6v6.6h-6.6zM60 60h6.6v6.6h-6.6zM24 66h6.6v6.6h-6.6zM60 66h6.6v6.6h-6.6zM12 72h6.6v6.6h-6.6zM42 72h6.6v6.6h-6.6zM54 72h6.6v6.6h-6.6zM60 72h6.6v6.6h-6.6zM66 72h6.6v6.6h-6.6z"/>
<path fill="#00d5ff" d="M36 6h6.6v6.6h-6.6zM36 12h6.6v6.6h-6.6zM48 24h6.6v6.6h-6.6zM66 24h6.6v6.6h-6.6zM48 30h6.6v6.6h-6.6zM12 60h6.6v6.6h-6.6zM72 66h6.6v6.6h-6.6z"/>
<path fill="#00eaff" d="M42 6h6.6v6.6h-6.6zM48 6h6.6v6.6h-6.6zM36 18h6.6v6.6h-6.6zM48 18h6.6v6.6h-6.6zM42 24h6.6v6.6h-6.6zM42 30h6.6v6.6h-6.6zM36 36h6.6v6.6h-6.6zM42 36h6.6v6.6h-6.6zM48 42h6.6v6.6h-6.6zM30 48h6.6v6.6h-6.6zM42 48h6.6v6.6h-6.6zM54 48h6.6v6.6h-6.6zM24 54h6.6v6.6h-6.6zM36 54h6.6v6.6h-6.6zM24 60h6.6v6.6h-6.6zM54 66h6.6v6.6h-6.6zM66 66h6.6v6.6h-6.6zM78 66h6.6v6.6h-6.6zM18 84h6.6v6.6h-6.6z"/>
<path fill="#00fac1" d="M60 12h6.6v6.6h-6.6zM6 24h6.6v6.6h-6.6zM66 36h6.6v6.6h-6.6zM36 48h6.6v6.6h-6.6zM30 72h6.6v6.6h-6.6zM36 72h6.6v6.6h-6.6z"/>
<path fill="#00aaff" d="M24 18h6.6v6.6h-6.6zM30 24h6.6v6.6h-6.6zM48 36h6.6v6.6h-6.6zM18 60h6.6v6.6h-6.6zM12 66h6.6v6.6h-6.6zM18 66h6.6v6.6h-6.6zM18 72h6.6v6.6h-6.6z"/>
<path fill="#0095ff" d="M30 18h6.6v6.6h-6.6z"/>
<path fill="#00c0ff" d="M24 24h6.6v6.6h-6.6zM36 30h6.6v6.6h-6.6zM54 54h6.6v6.6h-6.6z"/>
<path fill="#00f8a2" d="M30 36h6.6v6.6h-6.6zM36 42h6.6v6.6h-6.6zM42 66h6.6v6.6h-6.6zM30 78h6.6v6.6h-6.6z"/>
</g></g>
<rect x="0" y="0" width="84" height="90.6" fill="none" stroke="#b0b0b0" stroke-width="0.8"/>
<path d="M9.7 0H17.8 M25.9 0H34 M42.1 0H50.2 M58.3 0H66.4 M74.5 0H82.6" stroke="#404040" stroke-width="1.0" fill="none"/>
<path d="M9.7 90.6H17.8 M25.9 90.6H34 M42.1 90.6H50.2 M58.3 90.6H66.4 M74.5 90.6H82.6" stroke="#606060" stroke-width="1.0" fill="none"/>
<path d="M0 0V7.2 M84 0V7.2 M0 17.7V28.2 M84 17.7V28.2 M0 38.7V49.2 M84 38.7V49.2 M0 59.7V70.2 M84 59.7V70.2 M0 80.7V90.6 M84 80.7V90.6" stroke="#484848" stroke-width="1.1" fill="none"/>
<text x="80" y="88" font-size="7.7" font-weight="bold" text-anchor="end" stroke="#000" stroke-width="0.2" textLength="50.03" lengthAdjust="spacingAndGlyphs">23 October 2012</text>
</g>
<g transform="translate(117.7,108)">
<rect x="0" y="0" width="84" height="90.6" filter="url(#hs)"/>
<g mask="url(#dm)"><g filter="url(#bl)">
<rect width="84" height="90" fill="#00fce0"/>
<path fill="#00f8a2" d="M60 0h6.6v6.6h-6.6zM60 6h6.6v6.6h-6.6zM36 42h6.6v6.6h-6.6zM30 78h6.6v6.6h-6.6z"/>
<path fill="#00ffff" d="M30 6h6.6v6.6h-6.6zM54 6h6.6v6.6h-6.6zM30 12h6.6v6.6h-6.6zM42 12h6.6v6.6h-6.6zM48 12h6.6v6.6h-6.6zM42 18h6.6v6.6h-6.6zM54 18h6.6v6.6h-6.6zM66 18h6.6v6.6h-6.6zM54 24h6.6v6.6h-6.6zM60 24h6.6v6.6h-6.6zM24 30h6.6v6.6h-6.6zM30 30h6.6v6.6h-6.6zM54 30h6.6v6.6h-6.6zM66 30h6.6v6.6h-6.6zM0 36h6.6v6.6h-6.6zM60 36h6.6v6.6h-6.6zM6 42h6.6v6.6h-6.6zM24 42h6.6v6.6h-6.6zM42 42h6.6v6.6h-6.6zM60 42h6.6v6.6h-6.6zM12 48h6.6v6.6h-6.6zM72 48h6.6v6.6h-6.6zM42 54h6.6v6.6h-6.6zM48 54h6.6v6.6h-6.6zM60 54h6.6v6.6h-6.6zM30 60h6.6v6.6h-6.6zM48 60h6.6v6.6h-6.6zM60 60h6.6v6.6h-6.6zM24 66h6.6v6.6h-6.6zM48 66h6.6v6.6h-6.6zM60 66h6.6v6.6h-6.6zM12 72h6.6v6.6h-6.6zM42 72h6.6v6.6h-6.6zM54 72h6.6v6.6h-6.6zM60 72h6.6v6.6h-6.6zM66 72h6.6v6.6h-6.6z"/>
<path fill="#00c0ff" d="M36 6h6.6v6.6h-6.6zM36 12h6.6v6.6h-6.6zM24 24h6.6v6.6h-6.6zM48 24h6.6v6.6h-6.6zM36 30h6.6v6.6h-6.6zM12 60h6.6v6.6h-6.6zM72 66h6.6v6.6h-6.6z"/>
<path fill="#00d5ff" d="M42 6h6.6v6.6h-6.6zM66 24h6.6v6.6h-6.6zM48 30h6.6v6.6h-6.6zM36 36h6.6v6.6h-6.6zM42 36h6.6v6.6h-6.6zM48 42h6.6v6.6h-6.6zM54 48h6.6v6.6h-6.6zM24 54h6.6v6.6h-6.6zM24 60h6.6v6.6h-6.6zM78 66h6.6v6.6h-6.6z"/>
<path fill="#00eaff" d="M48 6h6.6v6.6h-6.6zM36 18h6.6v6.6h-6.6zM48 18h6.6v6.6h-6.6zM36 24h6.6v6.6h-6.6zM42 24h6.6v6.6h-6.6zM42 30h6.6v6.6h-6.6zM6 36h6.6v6.6h-6.6zM18 48h6.6v6.6h-6.6zM24 48h6.6v6.6h-6.6zM30 48h6.6v6.6h-6.6zM42 48h6.6v6.6h-6.6zM48 48h6.6v6.6h-6.6zM18 54h6.6v6.6h-6.6zM30 54h6.6v6.6h-6.6zM36 54h6.6v6.6h-6.6zM54 66h6.6v6.6h-6.6zM66 66h6.6v6.6h-6.6zM18 84h6.6v6.6h-6.6z"/>
<path fill="#00fac1" d="M60 12h6.6v6.6h-6.6zM0 18h6.6v6.6h-6.6zM6 18h6.6v6.6h-6.6zM0 24h6.6v6.6h-6.6zM6 24h6.6v6.6h-6.6zM30 36h6.6v6.6h-6.6zM66 36h6.6v6.6h-6.6zM66 42h6.6v6.6h-6.6zM36 48h6.6v6.6h-6.6zM30 66h6.6v6.6h-6.6zM36 66h6.6v6.6h-6.6zM24 72h6.6v6.6h-6.6zM30 72h6.6v6.6h-6.6zM36 72h6.6v6.6h-6.6z"/>
<path fill="#00f584" d="M12 18h6.6v6.6h-6.6zM18 18h6.6v6.6h-6.6zM12 24h6.6v6.6h-6.6zM24 36h6.6v6.6h-6.6zM42 66h6.6v6.6h-6.6z"/>
<path fill="#00aaff" d="M24 18h6.6v6.6h-6.6zM30 24h6.6v6.6h-6.6zM48 36h6.6v6.6h-6.6zM54 54h6.6v6.6h-6.6zM12 66h6.6v6.6h-6.6zM18 72h6.6v6.6h-6.6z"/>
<path fill="#0080ff" d="M30 18h6.6v6.6h-6.6z"/>
<path fill="#0095ff" d="M18 60h6.6v6.6h-6.6zM18 66h6.6v6.6h-6.6z"/>
</g></g>
<rect x="0" y="0" width="84" height="90.6" fill="none" stroke="#b0b0b0" stroke-width="0.8"/>
<path d="M9.7 0H17.8 M25.9 0H34 M42.1 0H50.2 M58.3 0H66.4 M74.5 0H82.6" stroke="#404040" stroke-width="1.0" fill="none"/>
<path d="M9.7 90.6H17.8 M25.9 90.6H34 M42.1 90.6H50.2 M58.3 90.6H66.4 M74.5 90.6H82.6" stroke="#606060" stroke-width="1.0" fill="none"/>
<path d="M0 0V7.2 M84 0V7.2 M0 17.7V28.2 M84 17.7V28.2 M0 38.7V49.2 M84 38.7V49.2 M0 59.7V70.2 M84 59.7V70.2 M0 80.7V90.6 M84 80.7V90.6" stroke="#484848" stroke-width="1.1" fill="none"/>
<text x="80.1" y="88" font-size="7.7" font-weight="bold" text-anchor="end" stroke="#000" stroke-width="0.2" textLength="42.06" lengthAdjust="spacingAndGlyphs">4 March 2013</text>
</g>
<g transform="translate(208.4,108)">
<rect x="0" y="0" width="84" height="90.6" filter="url(#hs)"/>
<g mask="url(#dm)"><g filter="url(#bl)">
<rect width="84" height="90" fill="#00fce0"/>
<path fill="#00f8a2" d="M60 0h6.6v6.6h-6.6zM0 18h6.6v6.6h-6.6zM6 18h6.6v6.6h-6.6zM6 24h6.6v6.6h-6.6zM66 36h6.6v6.6h-6.6zM36 42h6.6v6.6h-6.6zM30 66h6.6v6.6h-6.6zM36 66h6.6v6.6h-6.6zM30 72h6.6v6.6h-6.6zM36 72h6.6v6.6h-6.6zM30 78h6.6v6.6h-6.6z"/>
<path fill="#00ffff" d="M30 6h6.6v6.6h-6.6zM54 6h6.6v6.6h-6.6zM30 12h6.6v6.6h-6.6zM42 12h6.6v6.6h-6.6zM48 12h6.6v6.6h-6.6zM42 18h6.6v6.6h-6.6zM54 18h6.6v6.6h-6.6zM66 18h6.6v6.6h-6.6zM60 24h6.6v6.6h-6.6zM24 30h6.6v6.6h-6.6zM30 30h6.6v6.6h-6.6zM54 30h6.6v6.6h-6.6zM66 30h6.6v6.6h-6.6zM0 36h6.6v6.6h-6.6zM60 36h6.6v6.6h-6.6zM6 42h6.6v6.6h-6.6zM24 42h6.6v6.6h-6.6zM30 42h6.6v6.6h-6.6zM60 42h6.6v6.6h-6.6zM12 48h6.6v6.6h-6.6zM12 54h6.6v6.6h-6.6zM42 54h6.6v6.6h-6.6zM60 54h6.6v6.6h-6.6zM30 60h6.6v6.6h-6.6zM48 60h6.6v6.6h-6.6zM60 60h6.6v6.6h-6.6zM48 66h6.6v6.6h-6.6zM54 72h6.6v6.6h-6.6zM66 72h6.6v6.6h-6.6z"/>
<path fill="#00c0ff" d="M36 6h6.6v6.6h-6.6zM42 6h6.6v6.6h-6.6zM36 12h6.6v6.6h-6.6zM24 24h6.6v6.6h-6.6zM36 36h6.6v6.6h-6.6zM42 36h6.6v6.6h-6.6zM48 42h6.6v6.6h-6.6zM66 66h6.6v6.6h-6.6z"/>
<path fill="#00d5ff" d="M48 6h6.6v6.6h-6.6zM36 18h6.6v6.6h-6.6zM48 24h6.6v6.6h-6.6zM66 24h6.6v6.6h-6.6zM48 30h6.6v6.6h-6.6zM30 48h6.6v6.6h-6.6zM42 48h6.6v6.6h-6.6zM54 48h6.6v6.6h-6.6zM24 54h6.6v6.6h-6.6zM54 66h6.6v6.6h-6.6zM78 66h6.6v6.6h-6.6zM18 84h6.6v6.6h-6.6z"/>
<path fill="#00f584" d="M60 6h6.6v6.6h-6.6zM12 18h6.6v6.6h-6.6zM18 18h6.6v6.6h-6.6zM12 24h6.6v6.6h-6.6zM24 36h6.6v6.6h-6.6z"/>
<path fill="#00fac1" d="M60 12h6.6v6.6h-6.6zM0 24h6.6v6.6h-6.6zM30 36h6.6v6.6h-6.6zM66 42h6.6v6.6h-6.6zM36 48h6.6v6.6h-6.6zM36 60h6.6v6.6h-6.6zM42 60h6.6v6.6h-6.6zM24 72h6.6v6.6h-6.6zM48 72h6.6v6.6h-6.6zM24 78h6.6v6.6h-6.6zM36 78h6.6v6.6h-6.6z"/>
<path fill="#00aaff" d="M24 18h6.6v6.6h-6.6zM36 30h6.6v6.6h-6.6zM48 36h6.6v6.6h-6.6zM54 54h6.6v6.6h-6.6zM12 60h6.6v6.6h-6.6zM72 66h6.6v6.6h-6.6zM18 72h6.6v6.6h-6.6z"/>
<path fill="#006bff" d="M30 18h6.6v6.6h-6.6z"/>
<path fill="#00eaff" d="M48 18h6.6v6.6h-6.6zM36 24h6.6v6.6h-6.6zM42 24h6.6v6.6h-6.6zM54 24h6.6v6.6h-6.6zM42 30h6.6v6.6h-6.6zM6 36h6.6v6.6h-6.6zM42 42h6.6v6.6h-6.6zM18 48h6.6v6.6h-6.6zM24 48h6.6v6.6h-6.6zM48 48h6.6v6.6h-6.6zM18 54h6.6v6.6h-6.6zM30 54h6.6v6.6h-6.6zM36 54h6.6v6.6h-6.6zM48 54h6.6v6.6h-6.6zM24 60h6.6v6.6h-6.6zM60 66h6.6v6.6h-6.6zM12 72h6.6v6.6h-6.6zM60 72h6.6v6.6h-6.6z"/>
<path fill="#0095ff" d="M30 24h6.6v6.6h-6.6zM18 60h6.6v6.6h-6.6zM12 66h6.6v6.6h-6.6zM18 66h6.6v6.6h-6.6z"/>
<path fill="#00f265" d="M42 66h6.6v6.6h-6.6z"/>
</g></g>
<rect x="0" y="0" width="84" height="90.6" fill="none" stroke="#b0b0b0" stroke-width="0.8"/>
<path d="M9.7 0H17.8 M25.9 0H34 M42.1 0H50.2 M58.3 0H66.4 M74.5 0H82.6" stroke="#404040" stroke-width="1.0" fill="none"/>
<path d="M9.7 90.6H17.8 M25.9 90.6H34 M42.1 90.6H50.2 M58.3 90.6H66.4 M74.5 90.6H82.6" stroke="#606060" stroke-width="1.0" fill="none"/>
<path d="M0 0V7.2 M84 0V7.2 M0 17.7V28.2 M84 17.7V28.2 M0 38.7V49.2 M84 38.7V49.2 M0 59.7V70.2 M84 59.7V70.2 M0 80.7V90.6 M84 80.7V90.6" stroke="#484848" stroke-width="1.1" fill="none"/>
<text x="81.4" y="88" font-size="7.7" font-weight="bold" text-anchor="end" stroke="#000" stroke-width="0.2" textLength="39.01" lengthAdjust="spacingAndGlyphs">20 May 2013</text>
</g>
<g transform="translate(300.6,108)">
<rect x="0" y="0" width="84" height="90.6" filter="url(#hs)"/>
<g mask="url(#dm)"><g filter="url(#bl)">
<rect width="84" height="90" fill="#00fce0"/>
<path fill="#00ffff" d="M54 0h6.6v6.6h-6.6zM30 6h6.6v6.6h-6.6zM30 12h6.6v6.6h-6.6zM42 12h6.6v6.6h-6.6zM48 12h6.6v6.6h-6.6zM54 12h6.6v6.6h-6.6zM48 18h6.6v6.6h-6.6zM54 18h6.6v6.6h-6.6zM60 18h6.6v6.6h-6.6zM66 18h6.6v6.6h-6.6zM60 24h6.6v6.6h-6.6zM24 30h6.6v6.6h-6.6zM30 30h6.6v6.6h-6.6zM60 30h6.6v6.6h-6.6zM66 30h6.6v6.6h-6.6zM0 36h6.6v6.6h-6.6zM54 36h6.6v6.6h-6.6zM60 36h6.6v6.6h-6.6zM12 42h6.6v6.6h-6.6zM24 42h6.6v6.6h-6.6zM30 42h6.6v6.6h-6.6zM54 42h6.6v6.6h-6.6zM60 42h6.6v6.6h-6.6zM60 48h6.6v6.6h-6.6zM12 54h6.6v6.6h-6.6zM42 54h6.6v6.6h-6.6zM60 54h6.6v6.6h-6.6zM60 60h6.6v6.6h-6.6zM24 84h6.6v6.6h-6.6z"/>
<path fill="#00f8a2" d="M60 0h6.6v6.6h-6.6zM60 6h6.6v6.6h-6.6zM0 18h6.6v6.6h-6.6zM6 18h6.6v6.6h-6.6zM18 18h6.6v6.6h-6.6zM0 24h6.6v6.6h-6.6zM6 24h6.6v6.6h-6.6zM12 24h6.6v6.6h-6.6zM24 36h6.6v6.6h-6.6zM66 42h6.6v6.6h-6.6zM36 60h6.6v6.6h-6.6zM42 60h6.6v6.6h-6.6zM24 72h6.6v6.6h-6.6zM42 72h6.6v6.6h-6.6zM48 72h6.6v6.6h-6.6zM30 78h6.6v6.6h-6.6zM36 78h6.6v6.6h-6.6z"/>
<path fill="#00aaff" d="M36 6h6.6v6.6h-6.6zM36 12h6.6v6.6h-6.6zM24 18h6.6v6.6h-6.6zM42 36h6.6v6.6h-6.6zM48 36h6.6v6.6h-6.6zM54 54h6.6v6.6h-6.6zM54 66h6.6v6.6h-6.6zM66 66h6.6v6.6h-6.6zM72 66h6.6v6.6h-6.6zM18 84h6.6v6.6h-6.6z"/>
<path fill="#00c0ff" d="M42 6h6.6v6.6h-6.6zM48 6h6.6v6.6h-6.6zM24 24h6.6v6.6h-6.6zM36 30h6.6v6.6h-6.6zM36 36h6.6v6.6h-6.6zM48 42h6.6v6.6h-6.6zM30 48h6.6v6.6h-6.6zM42 48h6.6v6.6h-6.6zM60 66h6.6v6.6h-6.6zM18 72h6.6v6.6h-6.6z"/>
<path fill="#00eaff" d="M54 6h6.6v6.6h-6.6zM36 24h6.6v6.6h-6.6zM42 24h6.6v6.6h-6.6zM48 24h6.6v6.6h-6.6zM54 24h6.6v6.6h-6.6zM66 24h6.6v6.6h-6.6zM54 30h6.6v6.6h-6.6zM6 42h6.6v6.6h-6.6zM42 42h6.6v6.6h-6.6zM12 48h6.6v6.6h-6.6zM18 48h6.6v6.6h-6.6zM24 48h6.6v6.6h-6.6zM18 54h6.6v6.6h-6.6zM36 54h6.6v6.6h-6.6zM24 60h6.6v6.6h-6.6zM48 60h6.6v6.6h-6.6zM48 66h6.6v6.6h-6.6zM78 66h6.6v6.6h-6.6zM54 72h6.6v6.6h-6.6zM66 72h6.6v6.6h-6.6z"/>
<path fill="#00f584" d="M12 18h6.6v6.6h-6.6zM66 36h6.6v6.6h-6.6zM30 72h6.6v6.6h-6.6zM36 72h6.6v6.6h-6.6z"/>
<path fill="#006bff" d="M30 18h6.6v6.6h-6.6z"/>
<path fill="#00d5ff" d="M36 18h6.6v6.6h-6.6zM42 30h6.6v6.6h-6.6zM48 30h6.6v6.6h-6.6zM6 36h6.6v6.6h-6.6zM48 48h6.6v6.6h-6.6zM54 48h6.6v6.6h-6.6zM24 54h6.6v6.6h-6.6zM30 54h6.6v6.6h-6.6zM48 54h6.6v6.6h-6.6zM12 72h6.6v6.6h-6.6zM60 72h6.6v6.6h-6.6z"/>
<path fill="#0095ff" d="M30 24h6.6v6.6h-6.6zM12 60h6.6v6.6h-6.6zM12 66h6.6v6.6h-6.6zM18 66h6.6v6.6h-6.6z"/>
<path fill="#00fac1" d="M30 36h6.6v6.6h-6.6zM36 42h6.6v6.6h-6.6zM72 54h6.6v6.6h-6.6zM24 66h6.6v6.6h-6.6zM24 78h6.6v6.6h-6.6zM42 78h6.6v6.6h-6.6z"/>
<path fill="#0080ff" d="M18 60h6.6v6.6h-6.6z"/>
<path fill="#00f265" d="M30 66h6.6v6.6h-6.6z"/>
<path fill="#00f046" d="M36 66h6.6v6.6h-6.6z"/>
<path fill="#2af23a" d="M42 66h6.6v6.6h-6.6z"/>
</g></g>
<rect x="0" y="0" width="84" height="90.6" fill="none" stroke="#b0b0b0" stroke-width="0.8"/>
<path d="M9.7 0H17.8 M25.9 0H34 M42.1 0H50.2 M58.3 0H66.4 M74.5 0H82.6" stroke="#404040" stroke-width="1.0" fill="none"/>
<path d="M9.7 90.6H17.8 M25.9 90.6H34 M42.1 90.6H50.2 M58.3 90.6H66.4 M74.5 90.6H82.6" stroke="#606060" stroke-width="1.0" fill="none"/>
<path d="M0 0V7.2 M84 0V7.2 M0 17.7V28.2 M84 17.7V28.2 M0 38.7V49.2 M84 38.7V49.2 M0 59.7V70.2 M84 59.7V70.2 M0 80.7V90.6 M84 80.7V90.6" stroke="#484848" stroke-width="1.1" fill="none"/>
<text x="80.8" y="88" font-size="7.7" font-weight="bold" text-anchor="end" stroke="#000" stroke-width="0.2" textLength="39.82" lengthAdjust="spacingAndGlyphs">22 June 2013</text>
</g>
<g transform="translate(391.6,108)">
<rect x="0" y="0" width="84" height="90.6" filter="url(#hs)"/>
<g mask="url(#dm)"><g filter="url(#bl)">
<rect width="84" height="90" fill="#00fce0"/>
<path fill="#00ffff" d="M54 0h6.6v6.6h-6.6zM30 6h6.6v6.6h-6.6zM30 12h6.6v6.6h-6.6zM42 12h6.6v6.6h-6.6zM48 12h6.6v6.6h-6.6zM54 12h6.6v6.6h-6.6zM48 18h6.6v6.6h-6.6zM54 18h6.6v6.6h-6.6zM60 18h6.6v6.6h-6.6zM66 18h6.6v6.6h-6.6zM42 24h6.6v6.6h-6.6zM48 24h6.6v6.6h-6.6zM60 24h6.6v6.6h-6.6zM24 30h6.6v6.6h-6.6zM30 30h6.6v6.6h-6.6zM60 30h6.6v6.6h-6.6zM0 36h6.6v6.6h-6.6zM54 36h6.6v6.6h-6.6zM60 36h6.6v6.6h-6.6zM12 42h6.6v6.6h-6.6zM24 42h6.6v6.6h-6.6zM30 42h6.6v6.6h-6.6zM54 42h6.6v6.6h-6.6zM60 42h6.6v6.6h-6.6zM36 48h6.6v6.6h-6.6zM60 48h6.6v6.6h-6.6zM12 54h6.6v6.6h-6.6zM60 54h6.6v6.6h-6.6zM24 60h6.6v6.6h-6.6zM60 60h6.6v6.6h-6.6zM18 78h6.6v6.6h-6.6zM24 84h6.6v6.6h-6.6z"/>
<path fill="#00fac1" d="M60 0h6.6v6.6h-6.6zM60 6h6.6v6.6h-6.6zM42 18h6.6v6.6h-6.6zM72 48h6.6v6.6h-6.6zM66 54h6.6v6.6h-6.6zM48 78h6.6v6.6h-6.6z"/>
<path fill="#00aaff" d="M36 6h6.6v6.6h-6.6zM42 6h6.6v6.6h-6.6zM48 6h6.6v6.6h-6.6zM36 12h6.6v6.6h-6.6zM36 30h6.6v6.6h-6.6zM36 36h6.6v6.6h-6.6zM48 36h6.6v6.6h-6.6zM48 42h6.6v6.6h-6.6zM30 48h6.6v6.6h-6.6zM42 48h6.6v6.6h-6.6zM48 54h6.6v6.6h-6.6zM54 54h6.6v6.6h-6.6zM12 72h6.6v6.6h-6.6zM54 72h6.6v6.6h-6.6zM60 72h6.6v6.6h-6.6zM66 72h6.6v6.6h-6.6z"/>
<path fill="#00c0ff" d="M54 6h6.6v6.6h-6.6zM24 18h6.6v6.6h-6.6zM42 30h6.6v6.6h-6.6zM6 36h6.6v6.6h-6.6zM42 42h6.6v6.6h-6.6zM48 48h6.6v6.6h-6.6zM54 48h6.6v6.6h-6.6zM30 54h6.6v6.6h-6.6zM48 60h6.6v6.6h-6.6zM48 66h6.6v6.6h-6.6z"/>
<path fill="#00f265" d="M0 18h6.6v6.6h-6.6zM6 18h6.6v6.6h-6.6zM66 36h6.6v6.6h-6.6z"/>
<path fill="#00f8a2" d="M12 18h6.6v6.6h-6.6zM18 18h6.6v6.6h-6.6zM6 24h6.6v6.6h-6.6zM12 24h6.6v6.6h-6.6zM24 36h6.6v6.6h-6.6zM72 54h6.6v6.6h-6.6zM30 60h6.6v6.6h-6.6zM24 66h6.6v6.6h-6.6zM24 78h6.6v6.6h-6.6zM36 78h6.6v6.6h-6.6zM42 78h6.6v6.6h-6.6z"/>
<path fill="#006bff" d="M30 18h6.6v6.6h-6.6z"/>
<path fill="#00d5ff" d="M36 18h6.6v6.6h-6.6zM24 24h6.6v6.6h-6.6zM36 24h6.6v6.6h-6.6zM6 42h6.6v6.6h-6.6zM12 48h6.6v6.6h-6.6zM24 48h6.6v6.6h-6.6zM18 54h6.6v6.6h-6.6zM24 54h6.6v6.6h-6.6z"/>
<path fill="#00f584" d="M0 24h6.6v6.6h-6.6zM66 42h6.6v6.6h-6.6zM36 60h6.6v6.6h-6.6zM42 60h6.6v6.6h-6.6zM24 72h6.6v6.6h-6.6zM42 72h6.6v6.6h-6.6zM48 72h6.6v6.6h-6.6zM30 78h6.6v6.6h-6.6z"/>
<path fill="#0095ff" d="M30 24h6.6v6.6h-6.6zM42 36h6.6v6.6h-6.6zM18 66h6.6v6.6h-6.6zM54 66h6.6v6.6h-6.6zM60 66h6.6v6.6h-6.6zM72 66h6.6v6.6h-6.6zM18 84h6.6v6.6h-6.6z"/>
<path fill="#00eaff" d="M54 24h6.6v6.6h-6.6zM66 24h6.6v6.6h-6.6zM48 30h6.6v6.6h-6.6zM54 30h6.6v6.6h-6.6zM18 48h6.6v6.6h-6.6zM36 54h6.6v6.6h-6.6zM42 54h6.6v6.6h-6.6zM78 66h6.6v6.6h-6.6zM18 72h6.6v6.6h-6.6z"/>
<path fill="#0080ff" d="M12 60h6.6v6.6h-6.6zM18 60h6.6v6.6h-6.6zM12 66h6.6v6.6h-6.6zM66 66h6.6v6.6h-6.6z"/>
<path fill="#55f52f" d="M30 66h6.6v6.6h-6.6z"/>
<path fill="#aafa17" d="M36 66h6.6v6.6h-6.6z"/>
<path fill="#80f823" d="M42 66h6.6v6.6h-6.6z"/>
<path fill="#00f046" d="M30 72h6.6v6.6h-6.6zM36 72h6.6v6.6h-6.6z"/>
</g></g>
<rect x="0" y="0" width="84" height="90.6" fill="none" stroke="#b0b0b0" stroke-width="0.8"/>
<path d="M9.7 0H17.8 M25.9 0H34 M42.1 0H50.2 M58.3 0H66.4 M74.5 0H82.6" stroke="#404040" stroke-width="1.0" fill="none"/>
<path d="M9.7 90.6H17.8 M25.9 90.6H34 M42.1 90.6H50.2 M58.3 90.6H66.4 M74.5 90.6H82.6" stroke="#606060" stroke-width="1.0" fill="none"/>
<path d="M0 0V7.2 M84 0V7.2 M0 17.7V28.2 M84 17.7V28.2 M0 38.7V49.2 M84 38.7V49.2 M0 59.7V70.2 M84 59.7V70.2 M0 80.7V90.6 M84 80.7V90.6" stroke="#484848" stroke-width="1.1" fill="none"/>
<text x="80.9" y="88" font-size="7.7" font-weight="bold" text-anchor="end" stroke="#000" stroke-width="0.2" textLength="38.22" lengthAdjust="spacingAndGlyphs">14 July 2013</text>
</g>
<g transform="translate(25.3,205.3)">
<rect x="0" y="0" width="84" height="90.6" filter="url(#hs)"/>
<g mask="url(#dm)"><g filter="url(#bl)">
<rect width="84" height="90" fill="#00fce0"/>
<path fill="#00eaff" d="M54 0h6.6v6.6h-6.6zM60 6h6.6v6.6h-6.6zM30 12h6.6v6.6h-6.6zM54 12h6.6v6.6h-6.6zM54 18h6.6v6.6h-6.6zM60 18h6.6v6.6h-6.6zM24 24h6.6v6.6h-6.6zM54 24h6.6v6.6h-6.6zM60 24h6.6v6.6h-6.6zM48 30h6.6v6.6h-6.6zM60 30h6.6v6.6h-6.6zM54 36h6.6v6.6h-6.6zM12 42h6.6v6.6h-6.6zM24 42h6.6v6.6h-6.6zM54 42h6.6v6.6h-6.6zM60 42h6.6v6.6h-6.6zM60 48h6.6v6.6h-6.6zM36 54h6.6v6.6h-6.6zM24 84h6.6v6.6h-6.6z"/>
<path fill="#00ffff" d="M60 0h6.6v6.6h-6.6zM30 6h6.6v6.6h-6.6zM42 12h6.6v6.6h-6.6zM60 12h6.6v6.6h-6.6zM66 18h6.6v6.6h-6.6zM66 24h6.6v6.6h-6.6zM24 30h6.6v6.6h-6.6zM30 30h6.6v6.6h-6.6zM0 36h6.6v6.6h-6.6zM30 36h6.6v6.6h-6.6zM60 54h6.6v6.6h-6.6zM78 66h6.6v6.6h-6.6zM18 78h6.6v6.6h-6.6z"/>
<path fill="#006bff" d="M36 6h6.6v6.6h-6.6zM42 6h6.6v6.6h-6.6zM36 12h6.6v6.6h-6.6zM30 24h6.6v6.6h-6.6zM36 36h6.6v6.6h-6.6zM48 42h6.6v6.6h-6.6zM48 66h6.6v6.6h-6.6z"/>
<path fill="#0055ff" d="M48 6h6.6v6.6h-6.6zM54 6h6.6v6.6h-6.6zM30 18h6.6v6.6h-6.6zM42 36h6.6v6.6h-6.6zM42 48h6.6v6.6h-6.6zM48 54h6.6v6.6h-6.6zM48 60h6.6v6.6h-6.6zM54 72h6.6v6.6h-6.6zM66 72h6.6v6.6h-6.6z"/>
<path fill="#00fac1" d="M24 12h6.6v6.6h-6.6zM48 18h6.6v6.6h-6.6zM42 24h6.6v6.6h-6.6zM66 30h6.6v6.6h-6.6zM66 54h6.6v6.6h-6.6zM24 60h6.6v6.6h-6.6zM18 72h6.6v6.6h-6.6zM48 78h6.6v6.6h-6.6z"/>
<path fill="#80f823" d="M0 18h6.6v6.6h-6.6zM6 18h6.6v6.6h-6.6zM42 72h6.6v6.6h-6.6z"/>
<path fill="#00f8a2" d="M12 18h6.6v6.6h-6.6zM18 18h6.6v6.6h-6.6zM12 24h6.6v6.6h-6.6zM48 24h6.6v6.6h-6.6zM24 36h6.6v6.6h-6.6zM72 48h6.6v6.6h-6.6zM72 54h6.6v6.6h-6.6zM42 78h6.6v6.6h-6.6z"/>
<path fill="#00d5ff" d="M24 18h6.6v6.6h-6.6zM36 48h6.6v6.6h-6.6z"/>
<path fill="#00aaff" d="M36 18h6.6v6.6h-6.6zM36 30h6.6v6.6h-6.6zM48 36h6.6v6.6h-6.6zM36 42h6.6v6.6h-6.6zM54 48h6.6v6.6h-6.6zM24 54h6.6v6.6h-6.6zM42 54h6.6v6.6h-6.6z"/>
<path fill="#00f584" d="M42 18h6.6v6.6h-6.6zM24 78h6.6v6.6h-6.6z"/>
<path fill="#2af23a" d="M0 24h6.6v6.6h-6.6zM66 42h6.6v6.6h-6.6z"/>
<path fill="#00f265" d="M6 24h6.6v6.6h-6.6zM30 60h6.6v6.6h-6.6zM42 60h6.6v6.6h-6.6zM48 72h6.6v6.6h-6.6z"/>
<path fill="#0095ff" d="M36 24h6.6v6.6h-6.6zM42 30h6.6v6.6h-6.6zM24 48h6.6v6.6h-6.6zM18 54h6.6v6.6h-6.6z"/>
<path fill="#00c0ff" d="M54 30h6.6v6.6h-6.6zM30 42h6.6v6.6h-6.6zM18 48h6.6v6.6h-6.6zM12 54h6.6v6.6h-6.6z"/>
<path fill="#0080ff" d="M6 36h6.6v6.6h-6.6zM6 42h6.6v6.6h-6.6zM42 42h6.6v6.6h-6.6zM12 48h6.6v6.6h-6.6zM30 48h6.6v6.6h-6.6zM48 48h6.6v6.6h-6.6zM30 54h6.6v6.6h-6.6zM54 54h6.6v6.6h-6.6zM18 66h6.6v6.6h-6.6z"/>
<path fill="#aafa17" d="M66 36h6.6v6.6h-6.6zM30 72h6.6v6.6h-6.6z"/>
<path fill="#002bff" d="M12 60h6.6v6.6h-6.6zM54 66h6.6v6.6h-6.6zM60 72h6.6v6.6h-6.6zM18 84h6.6v6.6h-6.6z"/>
<path fill="#0040ff" d="M18 60h6.6v6.6h-6.6zM12 66h6.6v6.6h-6.6zM72 66h6.6v6.6h-6.6zM12 72h6.6v6.6h-6.6z"/>
<path fill="#55f52f" d="M36 60h6.6v6.6h-6.6zM24 66h6.6v6.6h-6.6zM24 72h6.6v6.6h-6.6z"/>
<path fill="#ffb600" d="M30 66h6.6v6.6h-6.6zM42 66h6.6v6.6h-6.6z"/>
<path fill="#ff4c00" d="M36 66h6.6v6.6h-6.6z"/>
<path fill="#0015ff" d="M60 66h6.6v6.6h-6.6zM66 66h6.6v6.6h-6.6z"/>
<path fill="#d4fc0c" d="M36 72h6.6v6.6h-6.6z"/>
<path fill="#00f046" d="M30 78h6.6v6.6h-6.6zM36 78h6.6v6.6h-6.6z"/>
<ellipse cx="37" cy="69.5" rx="2.73" ry="2.02" fill="#a20000"/>
</g></g>
<rect x="0" y="0" width="84" height="90.6" fill="none" stroke="#b0b0b0" stroke-width="0.8"/>
<path d="M9.7 0H17.8 M25.9 0H34 M42.1 0H50.2 M58.3 0H66.4 M74.5 0H82.6" stroke="#303030" stroke-width="1.0" fill="none"/>
<path d="M9.7 90.6H17.8 M25.9 90.6H34 M42.1 90.6H50.2 M58.3 90.6H66.4 M74.5 90.6H82.6" stroke="#505050" stroke-width="1.0" fill="none"/>
<path d="M0 0V7.2 M84 0V7.2 M0 17.7V28.2 M84 17.7V28.2 M0 38.7V49.2 M84 38.7V49.2 M0 59.7V70.2 M84 59.7V70.2 M0 80.7V90.6 M84 80.7V90.6" stroke="#202020" stroke-width="1.1" fill="none"/>
<text x="80" y="88" font-size="7.7" font-weight="bold" text-anchor="end" stroke="#000" stroke-width="0.2" textLength="46.59" lengthAdjust="spacingAndGlyphs">16 August 2013</text>
</g>
<g transform="translate(117.7,205.3)">
<rect x="0" y="0" width="84" height="90.6" filter="url(#hs)"/>
<g mask="url(#dm)"><g filter="url(#bl)">
<rect width="84" height="90" fill="#00fce0"/>
<path fill="#00eaff" d="M54 0h6.6v6.6h-6.6zM60 6h6.6v6.6h-6.6zM30 12h6.6v6.6h-6.6zM54 12h6.6v6.6h-6.6zM54 18h6.6v6.6h-6.6zM60 18h6.6v6.6h-6.6zM24 24h6.6v6.6h-6.6zM54 24h6.6v6.6h-6.6zM60 24h6.6v6.6h-6.6zM48 30h6.6v6.6h-6.6zM60 30h6.6v6.6h-6.6zM54 36h6.6v6.6h-6.6zM12 42h6.6v6.6h-6.6zM24 42h6.6v6.6h-6.6zM54 42h6.6v6.6h-6.6zM60 42h6.6v6.6h-6.6zM60 48h6.6v6.6h-6.6zM36 54h6.6v6.6h-6.6zM24 84h6.6v6.6h-6.6z"/>
<path fill="#00ffff" d="M60 0h6.6v6.6h-6.6zM42 12h6.6v6.6h-6.6zM60 12h6.6v6.6h-6.6zM66 24h6.6v6.6h-6.6zM30 30h6.6v6.6h-6.6zM30 36h6.6v6.6h-6.6zM78 66h6.6v6.6h-6.6zM18 78h6.6v6.6h-6.6z"/>
<path fill="#006bff" d="M36 6h6.6v6.6h-6.6zM42 6h6.6v6.6h-6.6zM36 12h6.6v6.6h-6.6zM30 24h6.6v6.6h-6.6zM36 36h6.6v6.6h-6.6zM48 42h6.6v6.6h-6.6zM30 48h6.6v6.6h-6.6zM48 66h6.6v6.6h-6.6z"/>
<path fill="#0055ff" d="M48 6h6.6v6.6h-6.6zM54 6h6.6v6.6h-6.6zM30 18h6.6v6.6h-6.6zM42 36h6.6v6.6h-6.6zM42 48h6.6v6.6h-6.6zM48 54h6.6v6.6h-6.6zM48 60h6.6v6.6h-6.6z"/>
<path fill="#00fac1" d="M24 12h6.6v6.6h-6.6zM42 24h6.6v6.6h-6.6zM66 30h6.6v6.6h-6.6zM18 72h6.6v6.6h-6.6z"/>
<path fill="#80f823" d="M0 18h6.6v6.6h-6.6zM6 18h6.6v6.6h-6.6zM24 72h6.6v6.6h-6.6z"/>
<path fill="#00f8a2" d="M12 18h6.6v6.6h-6.6zM18 18h6.6v6.6h-6.6zM48 18h6.6v6.6h-6.6zM12 24h6.6v6.6h-6.6zM24 36h6.6v6.6h-6.6zM72 48h6.6v6.6h-6.6zM66 54h6.6v6.6h-6.6zM72 54h6.6v6.6h-6.6zM24 60h6.6v6.6h-6.6zM42 78h6.6v6.6h-6.6zM48 78h6.6v6.6h-6.6z"/>
<path fill="#00d5ff" d="M24 18h6.6v6.6h-6.6z"/>
<path fill="#00aaff" d="M36 18h6.6v6.6h-6.6zM36 30h6.6v6.6h-6.6zM48 36h6.6v6.6h-6.6zM36 42h6.6v6.6h-6.6zM54 48h6.6v6.6h-6.6zM24 54h6.6v6.6h-6.6z"/>
<path fill="#00f584" d="M42 18h6.6v6.6h-6.6zM48 24h6.6v6.6h-6.6zM24 78h6.6v6.6h-6.6z"/>
<path fill="#2af23a" d="M0 24h6.6v6.6h-6.6zM66 42h6.6v6.6h-6.6z"/>
<path fill="#00f265" d="M6 24h6.6v6.6h-6.6zM42 60h6.6v6.6h-6.6zM48 72h6.6v6.6h-6.6z"/>
<path fill="#0095ff" d="M36 24h6.6v6.6h-6.6zM42 30h6.6v6.6h-6.6zM24 48h6.6v6.6h-6.6zM18 54h6.6v6.6h-6.6zM42 54h6.6v6.6h-6.6z"/>
<path fill="#00c0ff" d="M54 30h6.6v6.6h-6.6zM30 42h6.6v6.6h-6.6zM18 48h6.6v6.6h-6.6zM36 48h6.6v6.6h-6.6zM12 54h6.6v6.6h-6.6z"/>
<path fill="#0080ff" d="M6 36h6.6v6.6h-6.6zM6 42h6.6v6.6h-6.6zM42 42h6.6v6.6h-6.6zM12 48h6.6v6.6h-6.6zM48 48h6.6v6.6h-6.6zM30 54h6.6v6.6h-6.6zM54 54h6.6v6.6h-6.6zM18 66h6.6v6.6h-6.6z"/>
<path fill="#aafa17" d="M66 36h6.6v6.6h-6.6zM42 72h6.6v6.6h-6.6z"/>
<path fill="#002bff" d="M12 60h6.6v6.6h-6.6zM60 72h6.6v6.6h-6.6z"/>
<path fill="#0040ff" d="M18 60h6.6v6.6h-6.6zM12 66h6.6v6.6h-6.6zM72 66h6.6v6.6h-6.6zM12 72h6.6v6.6h-6.6zM54 72h6.6v6.6h-6.6zM66 72h6.6v6.6h-6.6z"/>
<path fill="#00f046" d="M30 60h6.6v6.6h-6.6zM30 78h6.6v6.6h-6.6zM36 78h6.6v6.6h-6.6z"/>
<path fill="#55f52f" d="M36 60h6.6v6.6h-6.6zM24 66h6.6v6.6h-6.6z"/>
<path fill="#ff9d00" d="M30 66h6.6v6.6h-6.6zM42 66h6.6v6.6h-6.6z"/>
<path fill="#ff3a00" d="M36 66h6.6v6.6h-6.6z"/>
<path fill="#0015ff" d="M54 66h6.6v6.6h-6.6zM18 84h6.6v6.6h-6.6z"/>
<path fill="#0000ff" d="M60 66h6.6v6.6h-6.6zM66 66h6.6v6.6h-6.6z"/>
<path fill="#d4fc0c" d="M30 72h6.6v6.6h-6.6z"/>
<path fill="#ffff00" d="M36 72h6.6v6.6h-6.6z"/>
<ellipse cx="37" cy="69.5" rx="2.79" ry="2.06" fill="#9b0000"/>
</g></g>
<rect x="0" y="0" width="84" height="90.6" fill="none" stroke="#b0b0b0" stroke-width="0.8"/>
<path d="M9.7 0H17.8 M25.9 0H34 M42.1 0H50.2 M58.3 0H66.4 M74.5 0H82.6" stroke="#303030" stroke-width="1.0" fill="none"/>
<path d="M9.7 90.6H17.8 M25.9 90.6H34 M42.1 90.6H50.2 M58.3 90.6H66.4 M74.5 90.6H82.6" stroke="#505050" stroke-width="1.0" fill="none"/>
<path d="M0 0V7.2 M84 0V7.2 M0 17.7V28.2 M84 17.7V28.2 M0 38.7V49.2 M84 38.7V49.2 M0 59.7V70.2 M84 59.7V70.2 M0 80.7V90.6 M84 80.7V90.6" stroke="#202020" stroke-width="1.1" fill="none"/>
<text x="80.1" y="88" font-size="7.7" font-weight="bold" text-anchor="end" stroke="#000" stroke-width="0.2" textLength="57.98" lengthAdjust="spacingAndGlyphs">18 September 2013</text>
</g>
<g transform="translate(208.4,205.3)">
<rect x="0" y="0" width="84" height="90.6" filter="url(#hs)"/>
<g mask="url(#dm)"><g filter="url(#bl)">
<rect width="84" height="90" fill="#00fce0"/>
<path fill="#00eaff" d="M54 0h6.6v6.6h-6.6zM30 12h6.6v6.6h-6.6zM54 12h6.6v6.6h-6.6zM24 18h6.6v6.6h-6.6zM54 18h6.6v6.6h-6.6zM60 18h6.6v6.6h-6.6zM24 24h6.6v6.6h-6.6zM54 24h6.6v6.6h-6.6zM60 24h6.6v6.6h-6.6zM48 30h6.6v6.6h-6.6zM60 30h6.6v6.6h-6.6zM30 36h6.6v6.6h-6.6zM54 36h6.6v6.6h-6.6zM12 42h6.6v6.6h-6.6zM24 42h6.6v6.6h-6.6zM54 42h6.6v6.6h-6.6zM60 42h6.6v6.6h-6.6zM60 48h6.6v6.6h-6.6zM36 54h6.6v6.6h-6.6zM24 84h6.6v6.6h-6.6z"/>
<path fill="#00ffff" d="M60 0h6.6v6.6h-6.6zM42 12h6.6v6.6h-6.6zM60 12h6.6v6.6h-6.6zM66 24h6.6v6.6h-6.6zM30 30h6.6v6.6h-6.6zM78 66h6.6v6.6h-6.6zM18 78h6.6v6.6h-6.6z"/>
<path fill="#006bff" d="M36 6h6.6v6.6h-6.6zM42 6h6.6v6.6h-6.6zM36 12h6.6v6.6h-6.6zM30 24h6.6v6.6h-6.6zM6 36h6.6v6.6h-6.6zM36 36h6.6v6.6h-6.6zM42 42h6.6v6.6h-6.6zM48 42h6.6v6.6h-6.6zM30 48h6.6v6.6h-6.6zM48 48h6.6v6.6h-6.6zM30 54h6.6v6.6h-6.6zM48 66h6.6v6.6h-6.6z"/>
<path fill="#0055ff" d="M48 6h6.6v6.6h-6.6zM54 6h6.6v6.6h-6.6zM30 18h6.6v6.6h-6.6zM42 36h6.6v6.6h-6.6zM42 48h6.6v6.6h-6.6zM48 54h6.6v6.6h-6.6zM48 60h6.6v6.6h-6.6z"/>
<path fill="#00d5ff" d="M60 6h6.6v6.6h-6.6z"/>
<path fill="#00fac1" d="M24 12h6.6v6.6h-6.6zM42 24h6.6v6.6h-6.6zM66 30h6.6v6.6h-6.6z"/>
<path fill="#aafa17" d="M0 18h6.6v6.6h-6.6zM6 18h6.6v6.6h-6.6z"/>
<path fill="#00f8a2" d="M12 18h6.6v6.6h-6.6zM18 18h6.6v6.6h-6.6zM48 18h6.6v6.6h-6.6zM12 24h6.6v6.6h-6.6zM48 24h6.6v6.6h-6.6zM24 36h6.6v6.6h-6.6zM72 48h6.6v6.6h-6.6zM66 54h6.6v6.6h-6.6zM24 60h6.6v6.6h-6.6zM18 72h6.6v6.6h-6.6zM48 78h6.6v6.6h-6.6z"/>
<path fill="#00aaff" d="M36 18h6.6v6.6h-6.6zM36 30h6.6v6.6h-6.6zM54 30h6.6v6.6h-6.6zM48 36h6.6v6.6h-6.6zM36 42h6.6v6.6h-6.6zM54 48h6.6v6.6h-6.6zM24 54h6.6v6.6h-6.6z"/>
<path fill="#00f584" d="M42 18h6.6v6.6h-6.6zM72 54h6.6v6.6h-6.6zM42 78h6.6v6.6h-6.6z"/>
<path fill="#55f52f" d="M0 24h6.6v6.6h-6.6z"/>
<path fill="#00f046" d="M6 24h6.6v6.6h-6.6zM30 60h6.6v6.6h-6.6zM30 78h6.6v6.6h-6.6zM36 78h6.6v6.6h-6.6z"/>
<path fill="#0095ff" d="M36 24h6.6v6.6h-6.6zM42 30h6.6v6.6h-6.6zM24 48h6.6v6.6h-6.6zM18 54h6.6v6.6h-6.6zM42 54h6.6v6.6h-6.6z"/>
<path fill="#d4fc0c" d="M66 36h6.6v6.6h-6.6zM30 72h6.6v6.6h-6.6zM42 72h6.6v6.6h-6.6z"/>
<path fill="#0080ff" d="M6 42h6.6v6.6h-6.6zM12 48h6.6v6.6h-6.6zM54 54h6.6v6.6h-6.6zM18 66h6.6v6.6h-6.6z"/>
<path fill="#00c0ff" d="M30 42h6.6v6.6h-6.6zM18 48h6.6v6.6h-6.6zM36 48h6.6v6.6h-6.6zM12 54h6.6v6.6h-6.6z"/>
<path fill="#2af23a" d="M66 42h6.6v6.6h-6.6z"/>
<path fill="#002bff" d="M12 60h6.6v6.6h-6.6zM12 66h6.6v6.6h-6.6zM12 72h6.6v6.6h-6.6z"/>
<path fill="#0040ff" d="M18 60h6.6v6.6h-6.6zM72 66h6.6v6.6h-6.6zM54 72h6.6v6.6h-6.6zM66 72h6.6v6.6h-6.6z"/>
<path fill="#80f823" d="M36 60h6.6v6.6h-6.6zM24 66h6.6v6.6h-6.6zM24 72h6.6v6.6h-6.6z"/>
<path fill="#00f265" d="M42 60h6.6v6.6h-6.6zM48 72h6.6v6.6h-6.6zM24 78h6.6v6.6h-6.6z"/>
<path fill="#ff8500" d="M30 66h6.6v6.6h-6.6z"/>
<path fill="#ff2800" d="M36 66h6.6v6.6h-6.6z"/>
<path fill="#ff9d00" d="M42 66h6.6v6.6h-6.6z"/>
<path fill="#0015ff" d="M54 66h6.6v6.6h-6.6zM60 72h6.6v6.6h-6.6zM18 84h6.6v6.6h-6.6z"/>
<path fill="#0000ea" d="M60 66h6.6v6.6h-6.6z"/>
<path fill="#0000ff" d="M66 66h6.6v6.6h-6.6z"/>
<path fill="#ffe700" d="M36 72h6.6v6.6h-6.6z"/>
<ellipse cx="37" cy="69.5" rx="2.85" ry="2.1" fill="#930000"/>
</g></g>
<rect x="0" y="0" width="84" height="90.6" fill="none" stroke="#b0b0b0" stroke-width="0.8"/>
<path d="M9.7 0H17.8 M25.9 0H34 M42.1 0H50.2 M58.3 0H66.4 M74.5 0H82.6" stroke="#303030" stroke-width="1.0" fill="none"/>
<path d="M9.7 90.6H17.8 M25.9 90.6H34 M42.1 90.6H50.2 M58.3 90.6H66.4 M74.5 90.6H82.6" stroke="#505050" stroke-width="1.0" fill="none"/>
<path d="M0 0V7.2 M84 0V7.2 M0 17.7V28.2 M84 17.7V28.2 M0 38.7V49.2 M84 38.7V49.2 M0 59.7V70.2 M84 59.7V70.2 M0 80.7V90.6 M84 80.7V90.6" stroke="#202020" stroke-width="1.1" fill="none"/>
<text x="81.4" y="88" font-size="7.7" font-weight="bold" text-anchor="end" stroke="#000" stroke-width="0.2" textLength="50.03" lengthAdjust="spacingAndGlyphs">10 October 2013</text>
</g>
<g transform="translate(300.6,205.3)">
<rect x="0" y="0" width="84" height="90.6" filter="url(#hs)"/>
<g mask="url(#dm)"><g filter="url(#bl)">
<rect width="84" height="90" fill="#00fce0"/>
<path fill="#00eaff" d="M54 0h6.6v6.6h-6.6zM60 0h6.6v6.6h-6.6zM30 12h6.6v6.6h-6.6zM54 12h6.6v6.6h-6.6zM24 18h6.6v6.6h-6.6zM54 18h6.6v6.6h-6.6zM60 18h6.6v6.6h-6.6zM24 24h6.6v6.6h-6.6zM54 24h6.6v6.6h-6.6zM60 24h6.6v6.6h-6.6zM48 30h6.6v6.6h-6.6zM60 30h6.6v6.6h-6.6zM30 36h6.6v6.6h-6.6zM54 36h6.6v6.6h-6.6zM12 42h6.6v6.6h-6.6zM24 42h6.6v6.6h-6.6zM54 42h6.6v6.6h-6.6zM60 42h6.6v6.6h-6.6zM60 48h6.6v6.6h-6.6zM36 54h6.6v6.6h-6.6zM24 84h6.6v6.6h-6.6z"/>
<path fill="#006bff" d="M36 6h6.6v6.6h-6.6zM42 6h6.6v6.6h-6.6zM36 12h6.6v6.6h-6.6zM30 24h6.6v6.6h-6.6zM6 36h6.6v6.6h-6.6zM36 36h6.6v6.6h-6.6zM6 42h6.6v6.6h-6.6zM42 42h6.6v6.6h-6.6zM48 42h6.6v6.6h-6.6zM12 48h6.6v6.6h-6.6zM30 48h6.6v6.6h-6.6zM48 48h6.6v6.6h-6.6zM30 54h6.6v6.6h-6.6zM48 66h6.6v6.6h-6.6z"/>
<path fill="#0055ff" d="M48 6h6.6v6.6h-6.6zM54 6h6.6v6.6h-6.6zM30 18h6.6v6.6h-6.6zM42 48h6.6v6.6h-6.6zM48 54h6.6v6.6h-6.6zM48 60h6.6v6.6h-6.6z"/>
<path fill="#00d5ff" d="M60 6h6.6v6.6h-6.6z"/>
<path fill="#00fac1" d="M24 12h6.6v6.6h-6.6zM42 24h6.6v6.6h-6.6z"/>
<path fill="#00ffff" d="M42 12h6.6v6.6h-6.6zM60 12h6.6v6.6h-6.6zM66 24h6.6v6.6h-6.6zM30 30h6.6v6.6h-6.6zM78 66h6.6v6.6h-6.6zM18 78h6.6v6.6h-6.6z"/>
<path fill="#aafa17" d="M0 18h6.6v6.6h-6.6zM6 18h6.6v6.6h-6.6z"/>
<path fill="#00f8a2" d="M12 18h6.6v6.6h-6.6zM18 18h6.6v6.6h-6.6zM48 18h6.6v6.6h-6.6zM12 24h6.6v6.6h-6.6zM48 24h6.6v6.6h-6.6zM66 30h6.6v6.6h-6.6zM24 36h6.6v6.6h-6.6zM66 54h6.6v6.6h-6.6zM24 60h6.6v6.6h-6.6zM18 72h6.6v6.6h-6.6zM48 78h6.6v6.6h-6.6z"/>
<path fill="#00aaff" d="M36 18h6.6v6.6h-6.6zM36 30h6.6v6.6h-6.6zM54 30h6.6v6.6h-6.6zM48 36h6.6v6.6h-6.6zM54 48h6.6v6.6h-6.6zM24 54h6.6v6.6h-6.6z"/>
<path fill="#00f584" d="M42 18h6.6v6.6h-6.6zM72 48h6.6v6.6h-6.6zM72 54h6.6v6.6h-6.6zM42 78h6.6v6.6h-6.6z"/>
<path fill="#55f52f" d="M0 24h6.6v6.6h-6.6z"/>
<path fill="#00f046" d="M6 24h6.6v6.6h-6.6zM30 60h6.6v6.6h-6.6zM42 60h6.6v6.6h-6.6zM48 72h6.6v6.6h-6.6zM30 78h6.6v6.6h-6.6zM36 78h6.6v6.6h-6.6z"/>
<path fill="#0095ff" d="M36 24h6.6v6.6h-6.6zM42 30h6.6v6.6h-6.6zM36 42h6.6v6.6h-6.6zM24 48h6.6v6.6h-6.6zM18 54h6.6v6.6h-6.6zM42 54h6.6v6.6h-6.6z"/>
<path fill="#0040ff" d="M42 36h6.6v6.6h-6.6zM18 60h6.6v6.6h-6.6zM54 72h6.6v6.6h-6.6zM66 72h6.6v6.6h-6.6z"/>
<path fill="#d4fc0c" d="M66 36h6.6v6.6h-6.6zM30 72h6.6v6.6h-6.6zM42 72h6.6v6.6h-6.6z"/>
<path fill="#00c0ff" d="M30 42h6.6v6.6h-6.6zM18 48h6.6v6.6h-6.6zM36 48h6.6v6.6h-6.6zM12 54h6.6v6.6h-6.6z"/>
<path fill="#2af23a" d="M66 42h6.6v6.6h-6.6z"/>
<path fill="#0080ff" d="M54 54h6.6v6.6h-6.6zM18 66h6.6v6.6h-6.6z"/>
<path fill="#002bff" d="M12 60h6.6v6.6h-6.6zM12 66h6.6v6.6h-6.6zM72 66h6.6v6.6h-6.6zM12 72h6.6v6.6h-6.6z"/>
<path fill="#80f823" d="M36 60h6.6v6.6h-6.6zM24 66h6.6v6.6h-6.6zM24 72h6.6v6.6h-6.6z"/>
<path fill="#ff8500" d="M30 66h6.6v6.6h-6.6zM42 66h6.6v6.6h-6.6z"/>
<path fill="#ff1700" d="M36 66h6.6v6.6h-6.6z"/>
<path fill="#0015ff" d="M54 66h6.6v6.6h-6.6zM60 72h6.6v6.6h-6.6zM18 84h6.6v6.6h-6.6z"/>
<path fill="#0000ea" d="M60 66h6.6v6.6h-6.6z"/>
<path fill="#0000ff" d="M66 66h6.6v6.6h-6.6z"/>
<path fill="#ffe700" d="M36 72h6.6v6.6h-6.6z"/>
<path fill="#00f265" d="M24 78h6.6v6.6h-6.6z"/>
<ellipse cx="37" cy="69.5" rx="2.88" ry="2.12" fill="#8f0000"/>
</g></g>
<rect x="0" y="0" width="84" height="90.6" fill="none" stroke="#b0b0b0" stroke-width="0.8"/>
<path d="M9.7 0H17.8 M25.9 0H34 M42.1 0H50.2 M58.3 0H66.4 M74.5 0H82.6" stroke="#303030" stroke-width="1.0" fill="none"/>
<path d="M9.7 90.6H17.8 M25.9 90.6H34 M42.1 90.6H50.2 M58.3 90.6H66.4 M74.5 90.6H82.6" stroke="#505050" stroke-width="1.0" fill="none"/>
<path d="M0 0V7.2 M84 0V7.2 M0 17.7V28.2 M84 17.7V28.2 M0 38.7V49.2 M84 38.7V49.2 M0 59.7V70.2 M84 59.7V70.2 M0 80.7V90.6 M84 80.7V90.6" stroke="#202020" stroke-width="1.1" fill="none"/>
<text x="80.8" y="88" font-size="7.7" font-weight="bold" text-anchor="end" stroke="#000" stroke-width="0.2" textLength="56.78" lengthAdjust="spacingAndGlyphs">23 November 2013</text>
</g>
<g transform="translate(391.6,205.3)">
<rect x="0" y="0" width="84" height="90.6" filter="url(#hs)"/>
<g mask="url(#dm)"><g filter="url(#bl)">
<rect width="84" height="90" fill="#00fce0"/>
<path fill="#00eaff" d="M54 0h6.6v6.6h-6.6zM60 0h6.6v6.6h-6.6zM30 12h6.6v6.6h-6.6zM54 12h6.6v6.6h-6.6zM24 18h6.6v6.6h-6.6zM54 18h6.6v6.6h-6.6zM60 18h6.6v6.6h-6.6zM24 24h6.6v6.6h-6.6zM54 24h6.6v6.6h-6.6zM60 24h6.6v6.6h-6.6zM60 30h6.6v6.6h-6.6zM30 36h6.6v6.6h-6.6zM54 36h6.6v6.6h-6.6zM12 42h6.6v6.6h-6.6zM24 42h6.6v6.6h-6.6zM54 42h6.6v6.6h-6.6zM60 42h6.6v6.6h-6.6zM60 48h6.6v6.6h-6.6zM36 54h6.6v6.6h-6.6zM24 84h6.6v6.6h-6.6z"/>
<path fill="#006bff" d="M36 6h6.6v6.6h-6.6zM42 6h6.6v6.6h-6.6zM36 12h6.6v6.6h-6.6zM30 24h6.6v6.6h-6.6zM6 36h6.6v6.6h-6.6zM36 36h6.6v6.6h-6.6zM6 42h6.6v6.6h-6.6zM42 42h6.6v6.6h-6.6zM48 42h6.6v6.6h-6.6zM12 48h6.6v6.6h-6.6zM30 48h6.6v6.6h-6.6zM48 48h6.6v6.6h-6.6zM30 54h6.6v6.6h-6.6z"/>
<path fill="#0040ff" d="M48 6h6.6v6.6h-6.6zM54 6h6.6v6.6h-6.6zM42 36h6.6v6.6h-6.6zM42 48h6.6v6.6h-6.6zM48 54h6.6v6.6h-6.6zM18 60h6.6v6.6h-6.6zM48 60h6.6v6.6h-6.6zM54 72h6.6v6.6h-6.6zM66 72h6.6v6.6h-6.6z"/>
<path fill="#00d5ff" d="M60 6h6.6v6.6h-6.6z"/>
<path fill="#00fac1" d="M24 12h6.6v6.6h-6.6zM42 24h6.6v6.6h-6.6z"/>
<path fill="#00ffff" d="M42 12h6.6v6.6h-6.6zM60 12h6.6v6.6h-6.6zM30 30h6.6v6.6h-6.6zM48 30h6.6v6.6h-6.6zM18 78h6.6v6.6h-6.6z"/>
<path fill="#aafa17" d="M0 18h6.6v6.6h-6.6zM6 18h6.6v6.6h-6.6z"/>
<path fill="#00f8a2" d="M12 18h6.6v6.6h-6.6zM18 18h6.6v6.6h-6.6zM48 18h6.6v6.6h-6.6zM12 24h6.6v6.6h-6.6zM48 24h6.6v6.6h-6.6zM66 30h6.6v6.6h-6.6zM24 36h6.6v6.6h-6.6zM66 54h6.6v6.6h-6.6zM24 60h6.6v6.6h-6.6zM18 72h6.6v6.6h-6.6zM48 78h6.6v6.6h-6.6z"/>
<path fill="#0055ff" d="M30 18h6.6v6.6h-6.6zM48 66h6.6v6.6h-6.6z"/>
<path fill="#00aaff" d="M36 18h6.6v6.6h-6.6zM36 30h6.6v6.6h-6.6zM54 30h6.6v6.6h-6.6zM48 36h6.6v6.6h-6.6zM54 48h6.6v6.6h-6.6zM24 54h6.6v6.6h-6.6z"/>
<path fill="#00f584" d="M42 18h6.6v6.6h-6.6zM72 48h6.6v6.6h-6.6zM72 54h6.6v6.6h-6.6zM42 78h6.6v6.6h-6.6z"/>
<path fill="#55f52f" d="M0 24h6.6v6.6h-6.6zM66 42h6.6v6.6h-6.6z"/>
<path fill="#00f046" d="M6 24h6.6v6.6h-6.6zM30 60h6.6v6.6h-6.6zM42 60h6.6v6.6h-6.6zM48 72h6.6v6.6h-6.6zM36 78h6.6v6.6h-6.6z"/>
<path fill="#0095ff" d="M36 24h6.6v6.6h-6.6zM42 30h6.6v6.6h-6.6zM36 42h6.6v6.6h-6.6zM24 48h6.6v6.6h-6.6zM18 54h6.6v6.6h-6.6zM42 54h6.6v6.6h-6.6z"/>
<path fill="#d4fc0c" d="M66 36h6.6v6.6h-6.6zM42 72h6.6v6.6h-6.6z"/>
<path fill="#00c0ff" d="M30 42h6.6v6.6h-6.6zM18 48h6.6v6.6h-6.6zM36 48h6.6v6.6h-6.6zM12 54h6.6v6.6h-6.6z"/>
<path fill="#0080ff" d="M54 54h6.6v6.6h-6.6zM18 66h6.6v6.6h-6.6z"/>
<path fill="#002bff" d="M12 60h6.6v6.6h-6.6zM12 66h6.6v6.6h-6.6zM72 66h6.6v6.6h-6.6zM12 72h6.6v6.6h-6.6z"/>
<path fill="#80f823" d="M36 60h6.6v6.6h-6.6zM24 66h6.6v6.6h-6.6zM24 72h6.6v6.6h-6.6z"/>
<path fill="#ff7100" d="M30 66h6.6v6.6h-6.6z"/>
<path fill="#ff1000" d="M36 66h6.6v6.6h-6.6z"/>
<path fill="#ff8500" d="M42 66h6.6v6.6h-6.6z"/>
<path fill="#0015ff" d="M54 66h6.6v6.6h-6.6zM60 72h6.6v6.6h-6.6zM18 84h6.6v6.6h-6.6z"/>
<path fill="#0000ea" d="M60 66h6.6v6.6h-6.6zM66 66h6.6v6.6h-6.6z"/>
<path fill="#ffff00" d="M30 72h6.6v6.6h-6.6z"/>
<path fill="#ffe700" d="M36 72h6.6v6.6h-6.6z"/>
<path fill="#00f265" d="M24 78h6.6v6.6h-6.6z"/>
<path fill="#2af23a" d="M30 78h6.6v6.6h-6.6z"/>
<ellipse cx="37" cy="69.5" rx="2.91" ry="2.14" fill="#8b0000"/>
</g></g>
<rect x="0" y="0" width="84" height="90.6" fill="none" stroke="#b0b0b0" stroke-width="0.8"/>
<path d="M9.7 0H17.8 M25.9 0H34 M42.1 0H50.2 M58.3 0H66.4 M74.5 0H82.6" stroke="#303030" stroke-width="1.0" fill="none"/>
<path d="M9.7 90.6H17.8 M25.9 90.6H34 M42.1 90.6H50.2 M58.3 90.6H66.4 M74.5 90.6H82.6" stroke="#505050" stroke-width="1.0" fill="none"/>
<path d="M0 0V7.2 M84 0V7.2 M0 17.7V28.2 M84 17.7V28.2 M0 38.7V49.2 M84 38.7V49.2 M0 59.7V70.2 M84 59.7V70.2 M0 80.7V90.6 M84 80.7V90.6" stroke="#202020" stroke-width="1.1" fill="none"/>
<text x="80.9" y="88" font-size="7.7" font-weight="bold" text-anchor="end" stroke="#000" stroke-width="0.2" textLength="46.98" lengthAdjust="spacingAndGlyphs">6 January 2014</text>
</g>
<g transform="translate(25.3,303.3)">
<rect x="0" y="0" width="84" height="90.6" filter="url(#hs)"/>
<g mask="url(#dm)"><g filter="url(#bl)">
<rect width="84" height="90" fill="#00fce0"/>
<path fill="#00eaff" d="M54 0h6.6v6.6h-6.6zM60 0h6.6v6.6h-6.6zM30 12h6.6v6.6h-6.6zM54 12h6.6v6.6h-6.6zM24 18h6.6v6.6h-6.6zM54 18h6.6v6.6h-6.6zM60 18h6.6v6.6h-6.6zM54 24h6.6v6.6h-6.6zM60 24h6.6v6.6h-6.6zM60 30h6.6v6.6h-6.6zM30 36h6.6v6.6h-6.6zM54 36h6.6v6.6h-6.6zM12 42h6.6v6.6h-6.6zM24 42h6.6v6.6h-6.6zM54 42h6.6v6.6h-6.6zM60 42h6.6v6.6h-6.6zM60 48h6.6v6.6h-6.6zM36 54h6.6v6.6h-6.6zM24 84h6.6v6.6h-6.6z"/>
<path fill="#006bff" d="M36 6h6.6v6.6h-6.6zM42 6h6.6v6.6h-6.6zM36 12h6.6v6.6h-6.6zM30 24h6.6v6.6h-6.6zM6 36h6.6v6.6h-6.6zM36 36h6.6v6.6h-6.6zM6 42h6.6v6.6h-6.6zM42 42h6.6v6.6h-6.6zM48 42h6.6v6.6h-6.6zM12 48h6.6v6.6h-6.6zM30 48h6.6v6.6h-6.6zM48 48h6.6v6.6h-6.6zM30 54h6.6v6.6h-6.6z"/>
<path fill="#0040ff" d="M48 6h6.6v6.6h-6.6zM54 6h6.6v6.6h-6.6zM42 36h6.6v6.6h-6.6zM42 48h6.6v6.6h-6.6zM48 54h6.6v6.6h-6.6zM18 60h6.6v6.6h-6.6zM48 60h6.6v6.6h-6.6z"/>
<path fill="#00d5ff" d="M60 6h6.6v6.6h-6.6z"/>
<path fill="#00fac1" d="M24 12h6.6v6.6h-6.6z"/>
<path fill="#00ffff" d="M42 12h6.6v6.6h-6.6zM60 12h6.6v6.6h-6.6zM24 24h6.6v6.6h-6.6zM30 30h6.6v6.6h-6.6zM48 30h6.6v6.6h-6.6zM18 78h6.6v6.6h-6.6z"/>
<path fill="#aafa17" d="M0 18h6.6v6.6h-6.6zM6 18h6.6v6.6h-6.6zM36 60h6.6v6.6h-6.6zM24 66h6.6v6.6h-6.6zM24 72h6.6v6.6h-6.6z"/>
<path fill="#00f8a2" d="M12 18h6.6v6.6h-6.6zM18 18h6.6v6.6h-6.6zM48 18h6.6v6.6h-6.6zM12 24h6.6v6.6h-6.6zM42 24h6.6v6.6h-6.6zM66 30h6.6v6.6h-6.6zM24 36h6.6v6.6h-6.6zM66 54h6.6v6.6h-6.6zM24 60h6.6v6.6h-6.6zM18 72h6.6v6.6h-6.6zM48 78h6.6v6.6h-6.6z"/>
<path fill="#0055ff" d="M30 18h6.6v6.6h-6.6zM48 66h6.6v6.6h-6.6z"/>
<path fill="#00aaff" d="M36 18h6.6v6.6h-6.6zM36 30h6.6v6.6h-6.6zM54 30h6.6v6.6h-6.6zM48 36h6.6v6.6h-6.6zM18 48h6.6v6.6h-6.6zM54 48h6.6v6.6h-6.6zM24 54h6.6v6.6h-6.6z"/>
<path fill="#00f265" d="M42 18h6.6v6.6h-6.6zM24 78h6.6v6.6h-6.6z"/>
<path fill="#55f52f" d="M0 24h6.6v6.6h-6.6zM66 42h6.6v6.6h-6.6z"/>
<path fill="#00f046" d="M6 24h6.6v6.6h-6.6zM30 60h6.6v6.6h-6.6zM42 60h6.6v6.6h-6.6zM48 72h6.6v6.6h-6.6z"/>
<path fill="#0095ff" d="M36 24h6.6v6.6h-6.6zM42 30h6.6v6.6h-6.6zM36 42h6.6v6.6h-6.6zM24 48h6.6v6.6h-6.6zM18 54h6.6v6.6h-6.6zM42 54h6.6v6.6h-6.6z"/>
<path fill="#00f584" d="M48 24h6.6v6.6h-6.6zM72 48h6.6v6.6h-6.6zM72 54h6.6v6.6h-6.6zM42 78h6.6v6.6h-6.6z"/>
<path fill="#ffff00" d="M66 36h6.6v6.6h-6.6zM30 72h6.6v6.6h-6.6z"/>
<path fill="#00c0ff" d="M30 42h6.6v6.6h-6.6zM36 48h6.6v6.6h-6.6zM12 54h6.6v6.6h-6.6z"/>
<path fill="#0080ff" d="M54 54h6.6v6.6h-6.6zM18 66h6.6v6.6h-6.6z"/>
<path fill="#0015ff" d="M12 60h6.6v6.6h-6.6z"/>
<path fill="#002bff" d="M12 66h6.6v6.6h-6.6zM72 66h6.6v6.6h-6.6zM12 72h6.6v6.6h-6.6zM54 72h6.6v6.6h-6.6zM66 72h6.6v6.6h-6.6z"/>
<path fill="#ff7100" d="M30 66h6.6v6.6h-6.6z"/>
<path fill="#ff1000" d="M36 66h6.6v6.6h-6.6z"/>
<path fill="#ff8500" d="M42 66h6.6v6.6h-6.6z"/>
<path fill="#0000ff" d="M54 66h6.6v6.6h-6.6zM60 72h6.6v6.6h-6.6zM18 84h6.6v6.6h-6.6z"/>
<path fill="#0000ea" d="M60 66h6.6v6.6h-6.6zM66 66h6.6v6.6h-6.6z"/>
<path fill="#ffe700" d="M36 72h6.6v6.6h-6.6z"/>
<path fill="#d4fc0c" d="M42 72h6.6v6.6h-6.6z"/>
<path fill="#2af23a" d="M30 78h6.6v6.6h-6.6zM36 78h6.6v6.6h-6.6z"/>
<ellipse cx="37" cy="69.5" rx="2.94" ry="2.16" fill="#880000"/>
</g></g>
<rect x="0" y="0" width="84" height="90.6" fill="none" stroke="#b0b0b0" stroke-width="0.8"/>
<path d="M9.7 0H17.8 M25.9 0H34 M42.1 0H50.2 M58.3 0H66.4 M74.5 0H82.6" stroke="#606060" stroke-width="1.0" fill="none"/>
<path d="M9.7 90.6H17.8 M25.9 90.6H34 M42.1 90.6H50.2 M58.3 90.6H66.4 M74.5 90.6H82.6" stroke="#303030" stroke-width="1.0" fill="none"/>
<path d="M0 0V7.2 M84 0V7.2 M0 17.7V28.2 M84 17.7V28.2 M0 38.7V49.2 M84 38.7V49.2 M0 59.7V70.2 M84 59.7V70.2 M0 80.7V90.6 M84 80.7V90.6" stroke="#8a8a8a" stroke-width="1.1" fill="none"/>
<text x="80" y="88" font-size="7.7" font-weight="bold" text-anchor="end" stroke="#000" stroke-width="0.2" textLength="54.13" lengthAdjust="spacingAndGlyphs">19 February 2014</text>
</g>
<g transform="translate(117.7,303.3)">
<rect x="0" y="0" width="84" height="90.6" filter="url(#hs)"/>
<g mask="url(#dm)"><g filter="url(#bl)">
<rect width="84" height="90" fill="#00fce0"/>
<path fill="#00eaff" d="M54 0h6.6v6.6h-6.6zM60 0h6.6v6.6h-6.6zM30 12h6.6v6.6h-6.6zM54 12h6.6v6.6h-6.6zM24 18h6.6v6.6h-6.6zM54 18h6.6v6.6h-6.6zM60 18h6.6v6.6h-6.6zM54 24h6.6v6.6h-6.6zM60 24h6.6v6.6h-6.6zM60 30h6.6v6.6h-6.6zM30 36h6.6v6.6h-6.6zM54 36h6.6v6.6h-6.6zM12 42h6.6v6.6h-6.6zM24 42h6.6v6.6h-6.6zM54 42h6.6v6.6h-6.6zM60 42h6.6v6.6h-6.6zM60 48h6.6v6.6h-6.6zM36 54h6.6v6.6h-6.6zM24 84h6.6v6.6h-6.6z"/>
<path fill="#006bff" d="M36 6h6.6v6.6h-6.6zM42 6h6.6v6.6h-6.6zM36 12h6.6v6.6h-6.6zM30 24h6.6v6.6h-6.6zM6 36h6.6v6.6h-6.6zM36 36h6.6v6.6h-6.6zM6 42h6.6v6.6h-6.6zM42 42h6.6v6.6h-6.6zM48 42h6.6v6.6h-6.6zM12 48h6.6v6.6h-6.6zM30 48h6.6v6.6h-6.6zM48 48h6.6v6.6h-6.6zM30 54h6.6v6.6h-6.6z"/>
<path fill="#0040ff" d="M48 6h6.6v6.6h-6.6zM54 6h6.6v6.6h-6.6zM42 36h6.6v6.6h-6.6zM42 48h6.6v6.6h-6.6zM48 54h6.6v6.6h-6.6zM18 60h6.6v6.6h-6.6zM48 60h6.6v6.6h-6.6z"/>
<path fill="#00c0ff" d="M60 6h6.6v6.6h-6.6zM30 42h6.6v6.6h-6.6zM36 48h6.6v6.6h-6.6zM12 54h6.6v6.6h-6.6z"/>
<path fill="#00fac1" d="M24 12h6.6v6.6h-6.6z"/>
<path fill="#00ffff" d="M42 12h6.6v6.6h-6.6zM60 12h6.6v6.6h-6.6zM24 24h6.6v6.6h-6.6zM30 30h6.6v6.6h-6.6zM48 30h6.6v6.6h-6.6zM18 78h6.6v6.6h-6.6z"/>
<path fill="#aafa17" d="M0 18h6.6v6.6h-6.6zM6 18h6.6v6.6h-6.6zM36 60h6.6v6.6h-6.6zM24 66h6.6v6.6h-6.6zM24 72h6.6v6.6h-6.6z"/>
<path fill="#00f8a2" d="M12 18h6.6v6.6h-6.6zM18 18h6.6v6.6h-6.6zM48 18h6.6v6.6h-6.6zM12 24h6.6v6.6h-6.6zM42 24h6.6v6.6h-6.6zM66 30h6.6v6.6h-6.6zM24 36h6.6v6.6h-6.6zM66 54h6.6v6.6h-6.6zM24 60h6.6v6.6h-6.6zM18 72h6.6v6.6h-6.6zM48 78h6.6v6.6h-6.6z"/>
<path fill="#0055ff" d="M30 18h6.6v6.6h-6.6zM48 66h6.6v6.6h-6.6z"/>
<path fill="#00aaff" d="M36 18h6.6v6.6h-6.6zM36 30h6.6v6.6h-6.6zM54 30h6.6v6.6h-6.6zM48 36h6.6v6.6h-6.6zM18 48h6.6v6.6h-6.6zM54 48h6.6v6.6h-6.6zM24 54h6.6v6.6h-6.6z"/>
<path fill="#00f265" d="M42 18h6.6v6.6h-6.6zM24 78h6.6v6.6h-6.6z"/>
<path fill="#55f52f" d="M0 24h6.6v6.6h-6.6zM66 42h6.6v6.6h-6.6z"/>
<path fill="#00f046" d="M6 24h6.6v6.6h-6.6zM42 60h6.6v6.6h-6.6zM48 72h6.6v6.6h-6.6z"/>
<path fill="#0095ff" d="M36 24h6.6v6.6h-6.6zM42 30h6.6v6.6h-6.6zM36 42h6.6v6.6h-6.6zM24 48h6.6v6.6h-6.6zM18 54h6.6v6.6h-6.6zM42 54h6.6v6.6h-6.6z"/>
<path fill="#00f584" d="M48 24h6.6v6.6h-6.6zM72 48h6.6v6.6h-6.6zM72 54h6.6v6.6h-6.6zM42 78h6.6v6.6h-6.6z"/>
<path fill="#ffff00" d="M66 36h6.6v6.6h-6.6zM30 72h6.6v6.6h-6.6zM42 72h6.6v6.6h-6.6z"/>
<path fill="#0080ff" d="M54 54h6.6v6.6h-6.6zM18 66h6.6v6.6h-6.6z"/>
<path fill="#0015ff" d="M12 60h6.6v6.6h-6.6z"/>
<path fill="#2af23a" d="M30 60h6.6v6.6h-6.6zM30 78h6.6v6.6h-6.6zM36 78h6.6v6.6h-6.6z"/>
<path fill="#002bff" d="M12 66h6.6v6.6h-6.6zM72 66h6.6v6.6h-6.6zM12 72h6.6v6.6h-6.6zM54 72h6.6v6.6h-6.6zM66 72h6.6v6.6h-6.6z"/>
<path fill="#ff7100" d="M30 66h6.6v6.6h-6.6zM42 66h6.6v6.6h-6.6z"/>
<path fill="#ff1000" d="M36 66h6.6v6.6h-6.6z"/>
<path fill="#0000ff" d="M54 66h6.6v6.6h-6.6zM60 72h6.6v6.6h-6.6zM18 84h6.6v6.6h-6.6z"/>
<path fill="#0000d5" d="M60 66h6.6v6.6h-6.6z"/>
<path fill="#0000ea" d="M66 66h6.6v6.6h-6.6z"/>
<path fill="#ffce00" d="M36 72h6.6v6.6h-6.6z"/>
<ellipse cx="37" cy="69.5" rx="2.96" ry="2.17" fill="#860000"/>
</g></g>
<rect x="0" y="0" width="84" height="90.6" fill="none" stroke="#b0b0b0" stroke-width="0.8"/>
<path d="M9.7 0H17.8 M25.9 0H34 M42.1 0H50.2 M58.3 0H66.4 M74.5 0H82.6" stroke="#606060" stroke-width="1.0" fill="none"/>
<path d="M9.7 90.6H17.8 M25.9 90.6H34 M42.1 90.6H50.2 M58.3 90.6H66.4 M74.5 90.6H82.6" stroke="#303030" stroke-width="1.0" fill="none"/>
<path d="M0 0V7.2 M84 0V7.2 M0 17.7V28.2 M84 17.7V28.2 M0 38.7V49.2 M84 38.7V49.2 M0 59.7V70.2 M84 59.7V70.2 M0 80.7V90.6 M84 80.7V90.6" stroke="#8a8a8a" stroke-width="1.1" fill="none"/>
<text x="80.1" y="88" font-size="7.7" font-weight="bold" text-anchor="end" stroke="#000" stroke-width="0.2" textLength="39.01" lengthAdjust="spacingAndGlyphs">18 May 2014</text>
</g>
<g transform="translate(208.4,303.3)">
<rect x="0" y="0" width="84" height="90.6" filter="url(#hs)"/>
<g mask="url(#dm)"><g filter="url(#bl)">
<rect width="84" height="90" fill="#00fce0"/>
<path fill="#00eaff" d="M54 0h6.6v6.6h-6.6zM60 0h6.6v6.6h-6.6zM30 12h6.6v6.6h-6.6zM54 12h6.6v6.6h-6.6zM24 18h6.6v6.6h-6.6zM54 18h6.6v6.6h-6.6zM60 18h6.6v6.6h-6.6zM54 24h6.6v6.6h-6.6zM60 24h6.6v6.6h-6.6zM60 30h6.6v6.6h-6.6zM30 36h6.6v6.6h-6.6zM54 36h6.6v6.6h-6.6zM12 42h6.6v6.6h-6.6zM24 42h6.6v6.6h-6.6zM54 42h6.6v6.6h-6.6zM60 42h6.6v6.6h-6.6zM60 48h6.6v6.6h-6.6zM36 54h6.6v6.6h-6.6zM24 84h6.6v6.6h-6.6z"/>
<path fill="#006bff" d="M36 6h6.6v6.6h-6.6zM42 6h6.6v6.6h-6.6zM36 12h6.6v6.6h-6.6zM30 24h6.6v6.6h-6.6zM6 36h6.6v6.6h-6.6zM36 36h6.6v6.6h-6.6zM6 42h6.6v6.6h-6.6zM42 42h6.6v6.6h-6.6zM48 42h6.6v6.6h-6.6zM12 48h6.6v6.6h-6.6zM30 48h6.6v6.6h-6.6zM48 48h6.6v6.6h-6.6zM30 54h6.6v6.6h-6.6z"/>
<path fill="#0040ff" d="M48 6h6.6v6.6h-6.6zM54 6h6.6v6.6h-6.6zM42 36h6.6v6.6h-6.6zM42 48h6.6v6.6h-6.6zM48 54h6.6v6.6h-6.6zM18 60h6.6v6.6h-6.6zM48 60h6.6v6.6h-6.6z"/>
<path fill="#00c0ff" d="M60 6h6.6v6.6h-6.6zM36 48h6.6v6.6h-6.6z"/>
<path fill="#00fac1" d="M24 12h6.6v6.6h-6.6z"/>
<path fill="#00ffff" d="M42 12h6.6v6.6h-6.6zM60 12h6.6v6.6h-6.6zM24 24h6.6v6.6h-6.6zM30 30h6.6v6.6h-6.6zM48 30h6.6v6.6h-6.6zM18 78h6.6v6.6h-6.6z"/>
<path fill="#d4fc0c" d="M0 18h6.6v6.6h-6.6zM6 18h6.6v6.6h-6.6z"/>
<path fill="#00f8a2" d="M12 18h6.6v6.6h-6.6zM18 18h6.6v6.6h-6.6zM48 18h6.6v6.6h-6.6zM12 24h6.6v6.6h-6.6zM42 24h6.6v6.6h-6.6zM66 30h6.6v6.6h-6.6zM24 36h6.6v6.6h-6.6zM66 54h6.6v6.6h-6.6zM24 60h6.6v6.6h-6.6zM18 72h6.6v6.6h-6.6zM48 78h6.6v6.6h-6.6z"/>
<path fill="#0055ff" d="M30 18h6.6v6.6h-6.6zM48 66h6.6v6.6h-6.6z"/>
<path fill="#00aaff" d="M36 18h6.6v6.6h-6.6zM36 30h6.6v6.6h-6.6zM54 30h6.6v6.6h-6.6zM48 36h6.6v6.6h-6.6zM30 42h6.6v6.6h-6.6zM18 48h6.6v6.6h-6.6zM54 48h6.6v6.6h-6.6zM12 54h6.6v6.6h-6.6zM24 54h6.6v6.6h-6.6z"/>
<path fill="#00f265" d="M42 18h6.6v6.6h-6.6zM24 78h6.6v6.6h-6.6z"/>
<path fill="#55f52f" d="M0 24h6.6v6.6h-6.6zM66 42h6.6v6.6h-6.6z"/>
<path fill="#00f046" d="M6 24h6.6v6.6h-6.6zM42 60h6.6v6.6h-6.6zM48 72h6.6v6.6h-6.6z"/>
<path fill="#0095ff" d="M36 24h6.6v6.6h-6.6zM42 30h6.6v6.6h-6.6zM36 42h6.6v6.6h-6.6zM24 48h6.6v6.6h-6.6zM18 54h6.6v6.6h-6.6zM42 54h6.6v6.6h-6.6z"/>
<path fill="#00f584" d="M48 24h6.6v6.6h-6.6zM72 48h6.6v6.6h-6.6zM72 54h6.6v6.6h-6.6zM42 78h6.6v6.6h-6.6z"/>
<path fill="#ffff00" d="M66 36h6.6v6.6h-6.6zM30 72h6.6v6.6h-6.6zM42 72h6.6v6.6h-6.6z"/>
<path fill="#0080ff" d="M54 54h6.6v6.6h-6.6zM18 66h6.6v6.6h-6.6z"/>
<path fill="#0015ff" d="M12 60h6.6v6.6h-6.6zM12 72h6.6v6.6h-6.6z"/>
<path fill="#2af23a" d="M30 60h6.6v6.6h-6.6zM30 78h6.6v6.6h-6.6zM36 78h6.6v6.6h-6.6z"/>
<path fill="#aafa17" d="M36 60h6.6v6.6h-6.6zM24 66h6.6v6.6h-6.6zM24 72h6.6v6.6h-6.6z"/>
<path fill="#002bff" d="M12 66h6.6v6.6h-6.6zM72 66h6.6v6.6h-6.6zM54 72h6.6v6.6h-6.6zM66 72h6.6v6.6h-6.6z"/>
<path fill="#ff7100" d="M30 66h6.6v6.6h-6.6zM42 66h6.6v6.6h-6.6z"/>
<path fill="#ff0800" d="M36 66h6.6v6.6h-6.6z"/>
<path fill="#0000ff" d="M54 66h6.6v6.6h-6.6zM60 72h6.6v6.6h-6.6zM18 84h6.6v6.6h-6.6z"/>
<path fill="#0000d5" d="M60 66h6.6v6.6h-6.6z"/>
<path fill="#0000ea" d="M66 66h6.6v6.6h-6.6z"/>
<path fill="#ffce00" d="M36 72h6.6v6.6h-6.6z"/>
<ellipse cx="37" cy="69.5" rx="2.97" ry="2.18" fill="#840000"/>
</g></g>
<rect x="0" y="0" width="84" height="90.6" fill="none" stroke="#b0b0b0" stroke-width="0.8"/>
<path d="M9.7 0H17.8 M25.9 0H34 M42.1 0H50.2 M58.3 0H66.4 M74.5 0H82.6" stroke="#606060" stroke-width="1.0" fill="none"/>
<path d="M9.7 90.6H17.8 M25.9 90.6H34 M42.1 90.6H50.2 M58.3 90.6H66.4 M74.5 90.6H82.6" stroke="#303030" stroke-width="1.0" fill="none"/>
<path d="M0 0V7.2 M84 0V7.2 M0 17.7V28.2 M84 17.7V28.2 M0 38.7V49.2 M84 38.7V49.2 M0 59.7V70.2 M84 59.7V70.2 M0 80.7V90.6 M84 80.7V90.6" stroke="#8a8a8a" stroke-width="1.1" fill="none"/>
<text x="81.4" y="88" font-size="7.7" font-weight="bold" text-anchor="end" stroke="#000" stroke-width="0.2" textLength="34.64" lengthAdjust="spacingAndGlyphs">1 July 2014</text>
</g>
<g transform="translate(300.6,303.3)">
<rect x="0" y="0" width="84" height="90.6" filter="url(#hs)"/>
<g mask="url(#dm)"><g filter="url(#bl)">
<rect width="84" height="90" fill="#00fce0"/>
<path fill="#00eaff" d="M54 0h6.6v6.6h-6.6zM60 0h6.6v6.6h-6.6zM30 12h6.6v6.6h-6.6zM54 12h6.6v6.6h-6.6zM24 18h6.6v6.6h-6.6zM54 18h6.6v6.6h-6.6zM60 18h6.6v6.6h-6.6zM54 24h6.6v6.6h-6.6zM60 24h6.6v6.6h-6.6zM60 30h6.6v6.6h-6.6zM30 36h6.6v6.6h-6.6zM54 36h6.6v6.6h-6.6zM12 42h6.6v6.6h-6.6zM24 42h6.6v6.6h-6.6zM54 42h6.6v6.6h-6.6zM60 42h6.6v6.6h-6.6zM60 48h6.6v6.6h-6.6zM36 54h6.6v6.6h-6.6zM24 84h6.6v6.6h-6.6z"/>
<path fill="#006bff" d="M36 6h6.6v6.6h-6.6zM42 6h6.6v6.6h-6.6zM36 12h6.6v6.6h-6.6zM30 24h6.6v6.6h-6.6zM6 36h6.6v6.6h-6.6zM36 36h6.6v6.6h-6.6zM6 42h6.6v6.6h-6.6zM42 42h6.6v6.6h-6.6zM48 42h6.6v6.6h-6.6zM12 48h6.6v6.6h-6.6zM30 48h6.6v6.6h-6.6zM48 48h6.6v6.6h-6.6zM30 54h6.6v6.6h-6.6z"/>
<path fill="#0040ff" d="M48 6h6.6v6.6h-6.6zM54 6h6.6v6.6h-6.6zM42 36h6.6v6.6h-6.6zM42 48h6.6v6.6h-6.6zM48 54h6.6v6.6h-6.6zM18 60h6.6v6.6h-6.6zM48 60h6.6v6.6h-6.6z"/>
<path fill="#00c0ff" d="M60 6h6.6v6.6h-6.6z"/>
<path fill="#00fac1" d="M24 12h6.6v6.6h-6.6z"/>
<path fill="#00ffff" d="M42 12h6.6v6.6h-6.6zM60 12h6.6v6.6h-6.6zM24 24h6.6v6.6h-6.6zM30 30h6.6v6.6h-6.6zM48 30h6.6v6.6h-6.6zM18 78h6.6v6.6h-6.6z"/>
<path fill="#d4fc0c" d="M0 18h6.6v6.6h-6.6zM6 18h6.6v6.6h-6.6z"/>
<path fill="#00f8a2" d="M12 18h6.6v6.6h-6.6zM18 18h6.6v6.6h-6.6zM12 24h6.6v6.6h-6.6zM42 24h6.6v6.6h-6.6zM66 30h6.6v6.6h-6.6zM24 36h6.6v6.6h-6.6zM66 54h6.6v6.6h-6.6zM48 78h6.6v6.6h-6.6z"/>
<path fill="#0055ff" d="M30 18h6.6v6.6h-6.6zM48 66h6.6v6.6h-6.6z"/>
<path fill="#00aaff" d="M36 18h6.6v6.6h-6.6zM36 30h6.6v6.6h-6.6zM54 30h6.6v6.6h-6.6zM48 36h6.6v6.6h-6.6zM30 42h6.6v6.6h-6.6zM18 48h6.6v6.6h-6.6zM36 48h6.6v6.6h-6.6zM54 48h6.6v6.6h-6.6zM12 54h6.6v6.6h-6.6zM24 54h6.6v6.6h-6.6z"/>
<path fill="#00f265" d="M42 18h6.6v6.6h-6.6zM24 78h6.6v6.6h-6.6z"/>
<path fill="#00f584" d="M48 18h6.6v6.6h-6.6zM48 24h6.6v6.6h-6.6zM72 48h6.6v6.6h-6.6zM72 54h6.6v6.6h-6.6zM24 60h6.6v6.6h-6.6zM18 72h6.6v6.6h-6.6zM42 78h6.6v6.6h-6.6z"/>
<path fill="#55f52f" d="M0 24h6.6v6.6h-6.6zM66 42h6.6v6.6h-6.6z"/>
<path fill="#00f046" d="M6 24h6.6v6.6h-6.6zM42 60h6.6v6.6h-6.6zM48 72h6.6v6.6h-6.6z"/>
<path fill="#0095ff" d="M36 24h6.6v6.6h-6.6zM42 30h6.6v6.6h-6.6zM36 42h6.6v6.6h-6.6zM24 48h6.6v6.6h-6.6zM18 54h6.6v6.6h-6.6zM42 54h6.6v6.6h-6.6z"/>
<path fill="#ffff00" d="M66 36h6.6v6.6h-6.6zM30 72h6.6v6.6h-6.6zM42 72h6.6v6.6h-6.6z"/>
<path fill="#0080ff" d="M54 54h6.6v6.6h-6.6zM18 66h6.6v6.6h-6.6z"/>
<path fill="#0015ff" d="M12 60h6.6v6.6h-6.6zM12 72h6.6v6.6h-6.6z"/>
<path fill="#2af23a" d="M30 60h6.6v6.6h-6.6zM30 78h6.6v6.6h-6.6zM36 78h6.6v6.6h-6.6z"/>
<path fill="#aafa17" d="M36 60h6.6v6.6h-6.6zM24 66h6.6v6.6h-6.6zM24 72h6.6v6.6h-6.6z"/>
<path fill="#002bff" d="M12 66h6.6v6.6h-6.6zM72 66h6.6v6.6h-6.6zM54 72h6.6v6.6h-6.6zM66 72h6.6v6.6h-6.6z"/>
<path fill="#ff5f00" d="M30 66h6.6v6.6h-6.6z"/>
<path fill="#ff0800" d="M36 66h6.6v6.6h-6.6z"/>
<path fill="#ff7100" d="M42 66h6.6v6.6h-6.6z"/>
<path fill="#0000ff" d="M54 66h6.6v6.6h-6.6zM60 72h6.6v6.6h-6.6zM18 84h6.6v6.6h-6.6z"/>
<path fill="#0000d5" d="M60 66h6.6v6.6h-6.6z"/>
<path fill="#0000ea" d="M66 66h6.6v6.6h-6.6z"/>
<path fill="#ffce00" d="M36 72h6.6v6.6h-6.6z"/>
<ellipse cx="37" cy="69.5" rx="2.98" ry="2.19" fill="#820000"/>
</g></g>
<rect x="0" y="0" width="84" height="90.6" fill="none" stroke="#b0b0b0" stroke-width="0.8"/>
<path d="M9.7 0H17.8 M25.9 0H34 M42.1 0H50.2 M58.3 0H66.4 M74.5 0H82.6" stroke="#606060" stroke-width="1.0" fill="none"/>
<path d="M9.7 90.6H17.8 M25.9 90.6H34 M42.1 90.6H50.2 M58.3 90.6H66.4 M74.5 90.6H82.6" stroke="#303030" stroke-width="1.0" fill="none"/>
<path d="M0 0V7.2 M84 0V7.2 M0 17.7V28.2 M84 17.7V28.2 M0 38.7V49.2 M84 38.7V49.2 M0 59.7V70.2 M84 59.7V70.2 M0 80.7V90.6 M84 80.7V90.6" stroke="#8a8a8a" stroke-width="1.1" fill="none"/>
<text x="80.8" y="88" font-size="7.7" font-weight="bold" text-anchor="end" stroke="#000" stroke-width="0.2" textLength="46.59" lengthAdjust="spacingAndGlyphs">14 August 2014</text>
</g>
<g transform="translate(391.6,303.3)">
<rect x="0" y="0" width="84" height="90.6" filter="url(#hs)"/>
<g mask="url(#dm)"><g filter="url(#bl)">
<rect width="84" height="90" fill="#00fce0"/>
<path fill="#00eaff" d="M54 0h6.6v6.6h-6.6zM60 0h6.6v6.6h-6.6zM30 12h6.6v6.6h-6.6zM54 12h6.6v6.6h-6.6zM24 18h6.6v6.6h-6.6zM54 18h6.6v6.6h-6.6zM60 18h6.6v6.6h-6.6zM54 24h6.6v6.6h-6.6zM60 24h6.6v6.6h-6.6zM60 30h6.6v6.6h-6.6zM30 36h6.6v6.6h-6.6zM54 36h6.6v6.6h-6.6zM12 42h6.6v6.6h-6.6zM24 42h6.6v6.6h-6.6zM54 42h6.6v6.6h-6.6zM60 42h6.6v6.6h-6.6zM60 48h6.6v6.6h-6.6zM36 54h6.6v6.6h-6.6zM24 84h6.6v6.6h-6.6z"/>
<path fill="#006bff" d="M36 6h6.6v6.6h-6.6zM42 6h6.6v6.6h-6.6zM36 12h6.6v6.6h-6.6zM30 24h6.6v6.6h-6.6zM6 36h6.6v6.6h-6.6zM36 36h6.6v6.6h-6.6zM6 42h6.6v6.6h-6.6zM42 42h6.6v6.6h-6.6zM48 42h6.6v6.6h-6.6zM12 48h6.6v6.6h-6.6zM30 48h6.6v6.6h-6.6zM48 48h6.6v6.6h-6.6zM30 54h6.6v6.6h-6.6z"/>
<path fill="#0040ff" d="M48 6h6.6v6.6h-6.6zM54 6h6.6v6.6h-6.6zM42 36h6.6v6.6h-6.6zM42 48h6.6v6.6h-6.6zM48 54h6.6v6.6h-6.6zM18 60h6.6v6.6h-6.6zM48 60h6.6v6.6h-6.6z"/>
<path fill="#00c0ff" d="M60 6h6.6v6.6h-6.6z"/>
<path fill="#00fac1" d="M24 12h6.6v6.6h-6.6z"/>
<path fill="#00ffff" d="M42 12h6.6v6.6h-6.6zM60 12h6.6v6.6h-6.6zM24 24h6.6v6.6h-6.6zM30 30h6.6v6.6h-6.6zM48 30h6.6v6.6h-6.6zM18 78h6.6v6.6h-6.6z"/>
<path fill="#d4fc0c" d="M0 18h6.6v6.6h-6.6zM6 18h6.6v6.6h-6.6z"/>
<path fill="#00f8a2" d="M12 18h6.6v6.6h-6.6zM18 18h6.6v6.6h-6.6zM48 18h6.6v6.6h-6.6zM12 24h6.6v6.6h-6.6zM42 24h6.6v6.6h-6.6zM66 30h6.6v6.6h-6.6zM24 36h6.6v6.6h-6.6zM66 54h6.6v6.6h-6.6zM24 60h6.6v6.6h-6.6zM18 72h6.6v6.6h-6.6zM48 78h6.6v6.6h-6.6z"/>
<path fill="#0055ff" d="M30 18h6.6v6.6h-6.6zM48 66h6.6v6.6h-6.6z"/>
<path fill="#00aaff" d="M36 18h6.6v6.6h-6.6zM36 30h6.6v6.6h-6.6zM54 30h6.6v6.6h-6.6zM48 36h6.6v6.6h-6.6zM30 42h6.6v6.6h-6.6zM18 48h6.6v6.6h-6.6zM36 48h6.6v6.6h-6.6zM54 48h6.6v6.6h-6.6zM12 54h6.6v6.6h-6.6zM24 54h6.6v6.6h-6.6z"/>
<path fill="#00f265" d="M42 18h6.6v6.6h-6.6zM24 78h6.6v6.6h-6.6z"/>
<path fill="#55f52f" d="M0 24h6.6v6.6h-6.6zM66 42h6.6v6.6h-6.6z"/>
<path fill="#00f046" d="M6 24h6.6v6.6h-6.6zM42 60h6.6v6.6h-6.6zM48 72h6.6v6.6h-6.6z"/>
<path fill="#0095ff" d="M36 24h6.6v6.6h-6.6zM42 30h6.6v6.6h-6.6zM36 42h6.6v6.6h-6.6zM24 48h6.6v6.6h-6.6zM18 54h6.6v6.6h-6.6zM42 54h6.6v6.6h-6.6z"/>
<path fill="#00f584" d="M48 24h6.6v6.6h-6.6zM72 48h6.6v6.6h-6.6zM72 54h6.6v6.6h-6.6zM42 78h6.6v6.6h-6.6z"/>
<path fill="#ffff00" d="M66 36h6.6v6.6h-6.6zM30 72h6.6v6.6h-6.6zM42 72h6.6v6.6h-6.6z"/>
<path fill="#0080ff" d="M54 54h6.6v6.6h-6.6zM18 66h6.6v6.6h-6.6z"/>
<path fill="#0015ff" d="M12 60h6.6v6.6h-6.6zM12 72h6.6v6.6h-6.6z"/>
<path fill="#2af23a" d="M30 60h6.6v6.6h-6.6zM30 78h6.6v6.6h-6.6zM36 78h6.6v6.6h-6.6z"/>
<path fill="#aafa17" d="M36 60h6.6v6.6h-6.6zM24 66h6.6v6.6h-6.6zM24 72h6.6v6.6h-6.6z"/>
<path fill="#002bff" d="M12 66h6.6v6.6h-6.6zM72 66h6.6v6.6h-6.6zM54 72h6.6v6.6h-6.6zM66 72h6.6v6.6h-6.6z"/>
<path fill="#ff5f00" d="M30 66h6.6v6.6h-6.6z"/>
<path fill="#ff0800" d="M36 66h6.6v6.6h-6.6z"/>
<path fill="#ff7100" d="M42 66h6.6v6.6h-6.6z"/>
<path fill="#0000ff" d="M54 66h6.6v6.6h-6.6zM60 72h6.6v6.6h-6.6zM18 84h6.6v6.6h-6.6z"/>
<path fill="#0000d5" d="M60 66h6.6v6.6h-6.6z"/>
<path fill="#0000ea" d="M66 66h6.6v6.6h-6.6z"/>
<path fill="#ffce00" d="M36 72h6.6v6.6h-6.6z"/>
<ellipse cx="37" cy="69.5" rx="3" ry="2.2" fill="#800000"/>
</g></g>
<rect x="0" y="0" width="84" height="90.6" fill="none" stroke="#b0b0b0" stroke-width="0.8"/>
<path d="M9.7 0H17.8 M25.9 0H34 M42.1 0H50.2 M58.3 0H66.4 M74.5 0H82.6" stroke="#606060" stroke-width="1.0" fill="none"/>
<path d="M9.7 90.6H17.8 M25.9 90.6H34 M42.1 90.6H50.2 M58.3 90.6H66.4 M74.5 90.6H82.6" stroke="#303030" stroke-width="1.0" fill="none"/>
<path d="M0 0V7.2 M84 0V7.2 M0 17.7V28.2 M84 17.7V28.2 M0 38.7V49.2 M84 38.7V49.2 M0 59.7V70.2 M84 59.7V70.2 M0 80.7V90.6 M84 80.7V90.6" stroke="#8a8a8a" stroke-width="1.1" fill="none"/>
<text x="80.9" y="88" font-size="7.7" font-weight="bold" text-anchor="end" stroke="#000" stroke-width="0.2" textLength="57.98" lengthAdjust="spacingAndGlyphs">27 September 2014</text>
</g>
<g transform="translate(25.3,400.3)">
<rect x="0" y="0" width="84" height="90.6" filter="url(#hs)"/>
<g mask="url(#dm)"><g filter="url(#bl)">
<rect width="84" height="90" fill="#00fce0"/>
<path fill="#00eaff" d="M54 0h6.6v6.6h-6.6zM60 0h6.6v6.6h-6.6zM30 12h6.6v6.6h-6.6zM54 12h6.6v6.6h-6.6zM24 18h6.6v6.6h-6.6zM54 18h6.6v6.6h-6.6zM60 18h6.6v6.6h-6.6zM54 24h6.6v6.6h-6.6zM60 24h6.6v6.6h-6.6zM60 30h6.6v6.6h-6.6zM30 36h6.6v6.6h-6.6zM54 36h6.6v6.6h-6.6zM12 42h6.6v6.6h-6.6zM24 42h6.6v6.6h-6.6zM54 42h6.6v6.6h-6.6zM60 42h6.6v6.6h-6.6zM60 48h6.6v6.6h-6.6zM36 54h6.6v6.6h-6.6zM24 84h6.6v6.6h-6.6z"/>
<path fill="#006bff" d="M36 6h6.6v6.6h-6.6zM42 6h6.6v6.6h-6.6zM36 12h6.6v6.6h-6.6zM30 24h6.6v6.6h-6.6zM6 36h6.6v6.6h-6.6zM36 36h6.6v6.6h-6.6zM6 42h6.6v6.6h-6.6zM42 42h6.6v6.6h-6.6zM48 42h6.6v6.6h-6.6zM12 48h6.6v6.6h-6.6zM30 48h6.6v6.6h-6.6zM48 48h6.6v6.6h-6.6zM30 54h6.6v6.6h-6.6z"/>
<path fill="#0040ff" d="M48 6h6.6v6.6h-6.6zM54 6h6.6v6.6h-6.6zM42 36h6.6v6.6h-6.6zM42 48h6.6v6.6h-6.6zM48 54h6.6v6.6h-6.6zM18 60h6.6v6.6h-6.6zM48 60h6.6v6.6h-6.6z"/>
<path fill="#00c0ff" d="M60 6h6.6v6.6h-6.6z"/>
<path fill="#00fac1" d="M24 12h6.6v6.6h-6.6z"/>
<path fill="#00ffff" d="M42 12h6.6v6.6h-6.6zM60 12h6.6v6.6h-6.6zM24 24h6.6v6.6h-6.6zM30 30h6.6v6.6h-6.6zM48 30h6.6v6.6h-6.6zM18 78h6.6v6.6h-6.6z"/>
<path fill="#d4fc0c" d="M0 18h6.6v6.6h-6.6zM6 18h6.6v6.6h-6.6z"/>
<path fill="#00f8a2" d="M12 18h6.6v6.6h-6.6zM18 18h6.6v6.6h-6.6zM48 18h6.6v6.6h-6.6zM12 24h6.6v6.6h-6.6zM42 24h6.6v6.6h-6.6zM66 30h6.6v6.6h-6.6zM24 36h6.6v6.6h-6.6zM66 54h6.6v6.6h-6.6zM24 60h6.6v6.6h-6.6zM18 72h6.6v6.6h-6.6zM48 78h6.6v6.6h-6.6z"/>
<path fill="#0055ff" d="M30 18h6.6v6.6h-6.6zM48 66h6.6v6.6h-6.6z"/>
<path fill="#00aaff" d="M36 18h6.6v6.6h-6.6zM36 30h6.6v6.6h-6.6zM54 30h6.6v6.6h-6.6zM48 36h6.6v6.6h-6.6zM30 42h6.6v6.6h-6.6zM18 48h6.6v6.6h-6.6zM36 48h6.6v6.6h-6.6zM54 48h6.6v6.6h-6.6zM12 54h6.6v6.6h-6.6zM24 54h6.6v6.6h-6.6z"/>
<path fill="#00f265" d="M42 18h6.6v6.6h-6.6zM24 78h6.6v6.6h-6.6z"/>
<path fill="#55f52f" d="M0 24h6.6v6.6h-6.6zM66 42h6.6v6.6h-6.6z"/>
<path fill="#00f046" d="M6 24h6.6v6.6h-6.6zM42 60h6.6v6.6h-6.6zM48 72h6.6v6.6h-6.6z"/>
<path fill="#0095ff" d="M36 24h6.6v6.6h-6.6zM42 30h6.6v6.6h-6.6zM36 42h6.6v6.6h-6.6zM24 48h6.6v6.6h-6.6zM18 54h6.6v6.6h-6.6zM42 54h6.6v6.6h-6.6z"/>
<path fill="#00f584" d="M48 24h6.6v6.6h-6.6zM72 48h6.6v6.6h-6.6zM72 54h6.6v6.6h-6.6zM42 78h6.6v6.6h-6.6z"/>
<path fill="#ffff00" d="M66 36h6.6v6.6h-6.6zM30 72h6.6v6.6h-6.6zM42 72h6.6v6.6h-6.6z"/>
<path fill="#0080ff" d="M54 54h6.6v6.6h-6.6zM18 66h6.6v6.6h-6.6z"/>
<path fill="#0015ff" d="M12 60h6.6v6.6h-6.6zM12 72h6.6v6.6h-6.6z"/>
<path fill="#2af23a" d="M30 60h6.6v6.6h-6.6zM30 78h6.6v6.6h-6.6zM36 78h6.6v6.6h-6.6z"/>
<path fill="#aafa17" d="M36 60h6.6v6.6h-6.6zM24 66h6.6v6.6h-6.6zM24 72h6.6v6.6h-6.6z"/>
<path fill="#002bff" d="M12 66h6.6v6.6h-6.6zM72 66h6.6v6.6h-6.6zM54 72h6.6v6.6h-6.6zM66 72h6.6v6.6h-6.6z"/>
<path fill="#ff5f00" d="M30 66h6.6v6.6h-6.6z"/>
<path fill="#ff0800" d="M36 66h6.6v6.6h-6.6z"/>
<path fill="#ff7100" d="M42 66h6.6v6.6h-6.6z"/>
<path fill="#0000ff" d="M54 66h6.6v6.6h-6.6zM60 72h6.6v6.6h-6.6zM18 84h6.6v6.6h-6.6z"/>
<path fill="#0000d5" d="M60 66h6.6v6.6h-6.6z"/>
<path fill="#0000ea" d="M66 66h6.6v6.6h-6.6z"/>
<path fill="#ffce00" d="M36 72h6.6v6.6h-6.6z"/>
<ellipse cx="37" cy="69.5" rx="3" ry="2.2" fill="#800000"/>
</g></g>
<rect x="0" y="0" width="84" height="90.6" fill="none" stroke="#b0b0b0" stroke-width="0.8"/>
<path d="M9.7 0H17.8 M25.9 0H34 M42.1 0H50.2 M58.3 0H66.4 M74.5 0H82.6" stroke="#383838" stroke-width="1.0" fill="none"/>
<path d="M9.7 90.6H17.8 M25.9 90.6H34 M42.1 90.6H50.2 M58.3 90.6H66.4 M74.5 90.6H82.6" stroke="#303030" stroke-width="1.0" fill="none"/>
<path d="M0 0V7.2 M84 0V7.2 M0 17.7V28.2 M84 17.7V28.2 M0 38.7V49.2 M84 38.7V49.2 M0 59.7V70.2 M84 59.7V70.2 M0 80.7V90.6 M84 80.7V90.6" stroke="#202020" stroke-width="1.1" fill="none"/>
<text x="80" y="88" font-size="7.7" font-weight="bold" text-anchor="end" stroke="#000" stroke-width="0.2" textLength="56.78" lengthAdjust="spacingAndGlyphs">30 November 2014</text>
</g>
<g transform="translate(117.7,400.3)">
<rect x="0" y="0" width="84" height="90.6" filter="url(#hs)"/>
<g mask="url(#dm)"><g filter="url(#bl)">
<rect width="84" height="90" fill="#00fce0"/>
<path fill="#00eaff" d="M54 0h6.6v6.6h-6.6zM60 0h6.6v6.6h-6.6zM30 12h6.6v6.6h-6.6zM54 12h6.6v6.6h-6.6zM24 18h6.6v6.6h-6.6zM54 18h6.6v6.6h-6.6zM60 18h6.6v6.6h-6.6zM54 24h6.6v6.6h-6.6zM60 24h6.6v6.6h-6.6zM60 30h6.6v6.6h-6.6zM30 36h6.6v6.6h-6.6zM54 36h6.6v6.6h-6.6zM12 42h6.6v6.6h-6.6zM24 42h6.6v6.6h-6.6zM54 42h6.6v6.6h-6.6zM60 42h6.6v6.6h-6.6zM60 48h6.6v6.6h-6.6zM36 54h6.6v6.6h-6.6zM24 84h6.6v6.6h-6.6z"/>
<path fill="#006bff" d="M36 6h6.6v6.6h-6.6zM42 6h6.6v6.6h-6.6zM36 12h6.6v6.6h-6.6zM30 24h6.6v6.6h-6.6zM6 36h6.6v6.6h-6.6zM36 36h6.6v6.6h-6.6zM6 42h6.6v6.6h-6.6zM42 42h6.6v6.6h-6.6zM48 42h6.6v6.6h-6.6zM12 48h6.6v6.6h-6.6zM30 48h6.6v6.6h-6.6zM48 48h6.6v6.6h-6.6zM30 54h6.6v6.6h-6.6z"/>
<path fill="#0040ff" d="M48 6h6.6v6.6h-6.6zM54 6h6.6v6.6h-6.6zM42 36h6.6v6.6h-6.6zM42 48h6.6v6.6h-6.6zM48 54h6.6v6.6h-6.6zM18 60h6.6v6.6h-6.6zM48 60h6.6v6.6h-6.6z"/>
<path fill="#00c0ff" d="M60 6h6.6v6.6h-6.6z"/>
<path fill="#00fac1" d="M24 12h6.6v6.6h-6.6z"/>
<path fill="#00ffff" d="M42 12h6.6v6.6h-6.6zM60 12h6.6v6.6h-6.6zM24 24h6.6v6.6h-6.6zM30 30h6.6v6.6h-6.6zM48 30h6.6v6.6h-6.6zM18 78h6.6v6.6h-6.6z"/>
<path fill="#d4fc0c" d="M0 18h6.6v6.6h-6.6zM6 18h6.6v6.6h-6.6z"/>
<path fill="#00f584" d="M12 18h6.6v6.6h-6.6zM48 24h6.6v6.6h-6.6zM72 48h6.6v6.6h-6.6zM72 54h6.6v6.6h-6.6zM42 78h6.6v6.6h-6.6z"/>
<path fill="#00f8a2" d="M18 18h6.6v6.6h-6.6zM48 18h6.6v6.6h-6.6zM12 24h6.6v6.6h-6.6zM42 24h6.6v6.6h-6.6zM66 30h6.6v6.6h-6.6zM24 36h6.6v6.6h-6.6zM66 54h6.6v6.6h-6.6zM24 60h6.6v6.6h-6.6zM18 72h6.6v6.6h-6.6zM48 78h6.6v6.6h-6.6z"/>
<path fill="#0055ff" d="M30 18h6.6v6.6h-6.6zM48 66h6.6v6.6h-6.6z"/>
<path fill="#00aaff" d="M36 18h6.6v6.6h-6.6zM36 30h6.6v6.6h-6.6zM54 30h6.6v6.6h-6.6zM48 36h6.6v6.6h-6.6zM30 42h6.6v6.6h-6.6zM18 48h6.6v6.6h-6.6zM36 48h6.6v6.6h-6.6zM54 48h6.6v6.6h-6.6zM12 54h6.6v6.6h-6.6zM24 54h6.6v6.6h-6.6z"/>
<path fill="#00f265" d="M42 18h6.6v6.6h-6.6zM24 78h6.6v6.6h-6.6z"/>
<path fill="#55f52f" d="M0 24h6.6v6.6h-6.6zM66 42h6.6v6.6h-6.6z"/>
<path fill="#00f046" d="M6 24h6.6v6.6h-6.6zM42 60h6.6v6.6h-6.6zM48 72h6.6v6.6h-6.6z"/>
<path fill="#0095ff" d="M36 24h6.6v6.6h-6.6zM42 30h6.6v6.6h-6.6zM36 42h6.6v6.6h-6.6zM24 48h6.6v6.6h-6.6zM18 54h6.6v6.6h-6.6zM42 54h6.6v6.6h-6.6z"/>
<path fill="#ffff00" d="M66 36h6.6v6.6h-6.6zM42 72h6.6v6.6h-6.6z"/>
<path fill="#0080ff" d="M54 54h6.6v6.6h-6.6zM18 66h6.6v6.6h-6.6z"/>
<path fill="#0015ff" d="M12 60h6.6v6.6h-6.6zM12 72h6.6v6.6h-6.6z"/>
<path fill="#2af23a" d="M30 60h6.6v6.6h-6.6zM30 78h6.6v6.6h-6.6zM36 78h6.6v6.6h-6.6z"/>
<path fill="#aafa17" d="M36 60h6.6v6.6h-6.6zM24 66h6.6v6.6h-6.6zM24 72h6.6v6.6h-6.6z"/>
<path fill="#002bff" d="M12 66h6.6v6.6h-6.6zM72 66h6.6v6.6h-6.6zM54 72h6.6v6.6h-6.6zM66 72h6.6v6.6h-6.6z"/>
<path fill="#ff5f00" d="M30 66h6.6v6.6h-6.6z"/>
<path fill="#ff0800" d="M36 66h6.6v6.6h-6.6z"/>
<path fill="#ff7100" d="M42 66h6.6v6.6h-6.6z"/>
<path fill="#0000ff" d="M54 66h6.6v6.6h-6.6zM60 72h6.6v6.6h-6.6zM18 84h6.6v6.6h-6.6z"/>
<path fill="#0000d5" d="M60 66h6.6v6.6h-6.6z"/>
<path fill="#0000ea" d="M66 66h6.6v6.6h-6.6z"/>
<path fill="#ffe700" d="M30 72h6.6v6.6h-6.6z"/>
<path fill="#ffce00" d="M36 72h6.6v6.6h-6.6z"/>
<ellipse cx="37" cy="69.5" rx="3.02" ry="2.21" fill="#800000"/>
</g></g>
<rect x="0" y="0" width="84" height="90.6" fill="none" stroke="#b0b0b0" stroke-width="0.8"/>
<path d="M9.7 0H17.8 M25.9 0H34 M42.1 0H50.2 M58.3 0H66.4 M74.5 0H82.6" stroke="#383838" stroke-width="1.0" fill="none"/>
<path d="M9.7 90.6H17.8 M25.9 90.6H34 M42.1 90.6H50.2 M58.3 90.6H66.4 M74.5 90.6H82.6" stroke="#303030" stroke-width="1.0" fill="none"/>
<path d="M0 0V7.2 M84 0V7.2 M0 17.7V28.2 M84 17.7V28.2 M0 38.7V49.2 M84 38.7V49.2 M0 59.7V70.2 M84 59.7V70.2 M0 80.7V90.6 M84 80.7V90.6" stroke="#202020" stroke-width="1.1" fill="none"/>
<text x="80.1" y="88" font-size="7.7" font-weight="bold" text-anchor="end" stroke="#000" stroke-width="0.2" textLength="55.98" lengthAdjust="spacingAndGlyphs">24 December 2014</text>
</g>
<g transform="translate(208.4,400.3)">
<rect x="0" y="0" width="84" height="90.6" filter="url(#hs)"/>
<g mask="url(#dm)"><g filter="url(#bl)">
<rect width="84" height="90" fill="#00fce0"/>
<path fill="#00eaff" d="M54 0h6.6v6.6h-6.6zM60 0h6.6v6.6h-6.6zM30 12h6.6v6.6h-6.6zM54 12h6.6v6.6h-6.6zM24 18h6.6v6.6h-6.6zM54 18h6.6v6.6h-6.6zM60 18h6.6v6.6h-6.6zM54 24h6.6v6.6h-6.6zM60 24h6.6v6.6h-6.6zM60 30h6.6v6.6h-6.6zM30 36h6.6v6.6h-6.6zM54 36h6.6v6.6h-6.6zM12 42h6.6v6.6h-6.6zM24 42h6.6v6.6h-6.6zM54 42h6.6v6.6h-6.6zM60 42h6.6v6.6h-6.6zM60 48h6.6v6.6h-6.6zM36 54h6.6v6.6h-6.6zM24 84h6.6v6.6h-6.6z"/>
<path fill="#006bff" d="M36 6h6.6v6.6h-6.6zM42 6h6.6v6.6h-6.6zM36 12h6.6v6.6h-6.6zM30 24h6.6v6.6h-6.6zM6 36h6.6v6.6h-6.6zM36 36h6.6v6.6h-6.6zM6 42h6.6v6.6h-6.6zM42 42h6.6v6.6h-6.6zM48 42h6.6v6.6h-6.6zM12 48h6.6v6.6h-6.6zM30 48h6.6v6.6h-6.6zM48 48h6.6v6.6h-6.6zM30 54h6.6v6.6h-6.6z"/>
<path fill="#0040ff" d="M48 6h6.6v6.6h-6.6zM54 6h6.6v6.6h-6.6zM42 36h6.6v6.6h-6.6zM42 48h6.6v6.6h-6.6zM48 54h6.6v6.6h-6.6zM18 60h6.6v6.6h-6.6zM48 60h6.6v6.6h-6.6z"/>
<path fill="#00c0ff" d="M60 6h6.6v6.6h-6.6z"/>
<path fill="#00fac1" d="M24 12h6.6v6.6h-6.6z"/>
<path fill="#00ffff" d="M42 12h6.6v6.6h-6.6zM60 12h6.6v6.6h-6.6zM24 24h6.6v6.6h-6.6zM30 30h6.6v6.6h-6.6zM48 30h6.6v6.6h-6.6zM18 78h6.6v6.6h-6.6z"/>
<path fill="#d4fc0c" d="M0 18h6.6v6.6h-6.6zM6 18h6.6v6.6h-6.6z"/>
<path fill="#00f584" d="M12 18h6.6v6.6h-6.6zM48 24h6.6v6.6h-6.6zM72 48h6.6v6.6h-6.6zM72 54h6.6v6.6h-6.6zM42 78h6.6v6.6h-6.6z"/>
<path fill="#00f8a2" d="M18 18h6.6v6.6h-6.6zM48 18h6.6v6.6h-6.6zM12 24h6.6v6.6h-6.6zM42 24h6.6v6.6h-6.6zM66 30h6.6v6.6h-6.6zM24 36h6.6v6.6h-6.6zM66 54h6.6v6.6h-6.6zM24 60h6.6v6.6h-6.6zM18 72h6.6v6.6h-6.6zM48 78h6.6v6.6h-6.6z"/>
<path fill="#0055ff" d="M30 18h6.6v6.6h-6.6zM48 66h6.6v6.6h-6.6z"/>
<path fill="#00aaff" d="M36 18h6.6v6.6h-6.6zM36 30h6.6v6.6h-6.6zM54 30h6.6v6.6h-6.6zM48 36h6.6v6.6h-6.6zM30 42h6.6v6.6h-6.6zM18 48h6.6v6.6h-6.6zM36 48h6.6v6.6h-6.6zM54 48h6.6v6.6h-6.6zM12 54h6.6v6.6h-6.6zM24 54h6.6v6.6h-6.6z"/>
<path fill="#00f265" d="M42 18h6.6v6.6h-6.6zM24 78h6.6v6.6h-6.6z"/>
<path fill="#80f823" d="M0 24h6.6v6.6h-6.6z"/>
<path fill="#00f046" d="M6 24h6.6v6.6h-6.6zM42 60h6.6v6.6h-6.6zM48 72h6.6v6.6h-6.6z"/>
<path fill="#0095ff" d="M36 24h6.6v6.6h-6.6zM42 30h6.6v6.6h-6.6zM24 48h6.6v6.6h-6.6zM18 54h6.6v6.6h-6.6z"/>
<path fill="#ffff00" d="M66 36h6.6v6.6h-6.6zM42 72h6.6v6.6h-6.6z"/>
<path fill="#0080ff" d="M36 42h6.6v6.6h-6.6zM42 54h6.6v6.6h-6.6zM54 54h6.6v6.6h-6.6zM18 66h6.6v6.6h-6.6z"/>
<path fill="#55f52f" d="M66 42h6.6v6.6h-6.6z"/>
<path fill="#0015ff" d="M12 60h6.6v6.6h-6.6zM12 72h6.6v6.6h-6.6z"/>
<path fill="#2af23a" d="M30 60h6.6v6.6h-6.6zM30 78h6.6v6.6h-6.6zM36 78h6.6v6.6h-6.6z"/>
<path fill="#aafa17" d="M36 60h6.6v6.6h-6.6zM24 66h6.6v6.6h-6.6zM24 72h6.6v6.6h-6.6z"/>
<path fill="#002bff" d="M12 66h6.6v6.6h-6.6zM72 66h6.6v6.6h-6.6zM54 72h6.6v6.6h-6.6zM66 72h6.6v6.6h-6.6z"/>
<path fill="#ff5f00" d="M30 66h6.6v6.6h-6.6z"/>
<path fill="#ff0000" d="M36 66h6.6v6.6h-6.6z"/>
<path fill="#ff7100" d="M42 66h6.6v6.6h-6.6z"/>
<path fill="#0000ff" d="M54 66h6.6v6.6h-6.6zM60 72h6.6v6.6h-6.6zM18 84h6.6v6.6h-6.6z"/>
<path fill="#0000d5" d="M60 66h6.6v6.6h-6.6z"/>
<path fill="#0000ea" d="M66 66h6.6v6.6h-6.6z"/>
<path fill="#ffe700" d="M30 72h6.6v6.6h-6.6z"/>
<path fill="#ffce00" d="M36 72h6.6v6.6h-6.6z"/>
<ellipse cx="37" cy="69.5" rx="3.03" ry="2.22" fill="#800000"/>
</g></g>
<rect x="0" y="0" width="84" height="90.6" fill="none" stroke="#b0b0b0" stroke-width="0.8"/>
<path d="M9.7 0H17.8 M25.9 0H34 M42.1 0H50.2 M58.3 0H66.4 M74.5 0H82.6" stroke="#383838" stroke-width="1.0" fill="none"/>
<path d="M9.7 90.6H17.8 M25.9 90.6H34 M42.1 90.6H50.2 M58.3 90.6H66.4 M74.5 90.6H82.6" stroke="#303030" stroke-width="1.0" fill="none"/>
<path d="M0 0V7.2 M84 0V7.2 M0 17.7V28.2 M84 17.7V28.2 M0 38.7V49.2 M84 38.7V49.2 M0 59.7V70.2 M84 59.7V70.2 M0 80.7V90.6 M84 80.7V90.6" stroke="#202020" stroke-width="1.1" fill="none"/>
<text x="81.4" y="88" font-size="7.7" font-weight="bold" text-anchor="end" stroke="#000" stroke-width="0.2" textLength="50.55" lengthAdjust="spacingAndGlyphs">6 February 2015</text>
<ellipse cx="49.5" cy="22.9" rx="9.6" ry="13.9" fill="none" stroke="#f020e0" stroke-width="1.4" transform="rotate(4 49.5 22.9)"/>
<ellipse cx="37.1" cy="72.6" rx="17.5" ry="10.4" fill="none" stroke="#f020e0" stroke-width="1.4" transform="rotate(10 37.1 72.6)"/>
<text x="39.6" y="9.1" font-size="8.2" font-weight="bold" fill="#f020e0" font-family="Liberation Sans" style="font-family:'Liberation Sans'" textLength="4.2" lengthAdjust="spacingAndGlyphs">B</text>
<text x="41.8" y="78.6" font-size="6.8" font-weight="bold" fill="#f020e0" style="font-family:'Liberation Sans'" textLength="4.8" lengthAdjust="spacingAndGlyphs">A</text>
</g>
<text x="389.2" y="435.4" font-size="7.7" font-weight="bold" text-anchor="middle">Unit:mm</text>
<rect x="304" y="439.2" width="170" height="10.4" fill="url(#jet)" stroke="#333" stroke-width="0.6"/>
<path d="M325.25 448V449.6 M346.5 448V449.6 M367.75 448V449.6 M389 448V449.6 M410.25 448V449.6 M431.5 448V449.6 M452.75 448V449.6" stroke="#222" stroke-width="0.7"/>
<text x="304" y="462.1" font-size="8.2" font-weight="bold" text-anchor="middle">−<tspan dx="1.2">90</tspan></text>
<text x="325.25" y="462.1" font-size="8.2" font-weight="bold" text-anchor="middle">−<tspan dx="1.2">75</tspan></text>
<text x="346.5" y="462.1" font-size="8.2" font-weight="bold" text-anchor="middle">−<tspan dx="1.2">60</tspan></text>
<text x="367.75" y="462.1" font-size="8.2" font-weight="bold" text-anchor="middle">−<tspan dx="1.2">45</tspan></text>
<text x="389" y="462.1" font-size="8.2" font-weight="bold" text-anchor="middle">−<tspan dx="1.2">30</tspan></text>
<text x="410.25" y="462.1" font-size="8.2" font-weight="bold" text-anchor="middle">−<tspan dx="1.2">15</tspan></text>
<text x="431.5" y="462.1" font-size="8.2" font-weight="bold" text-anchor="middle">0</text>
<text x="452.75" y="462.1" font-size="8.2" font-weight="bold" text-anchor="middle">15</text>
<text x="474" y="462.1" font-size="8.2" font-weight="bold" text-anchor="middle">30</text>
</svg></body></html>
